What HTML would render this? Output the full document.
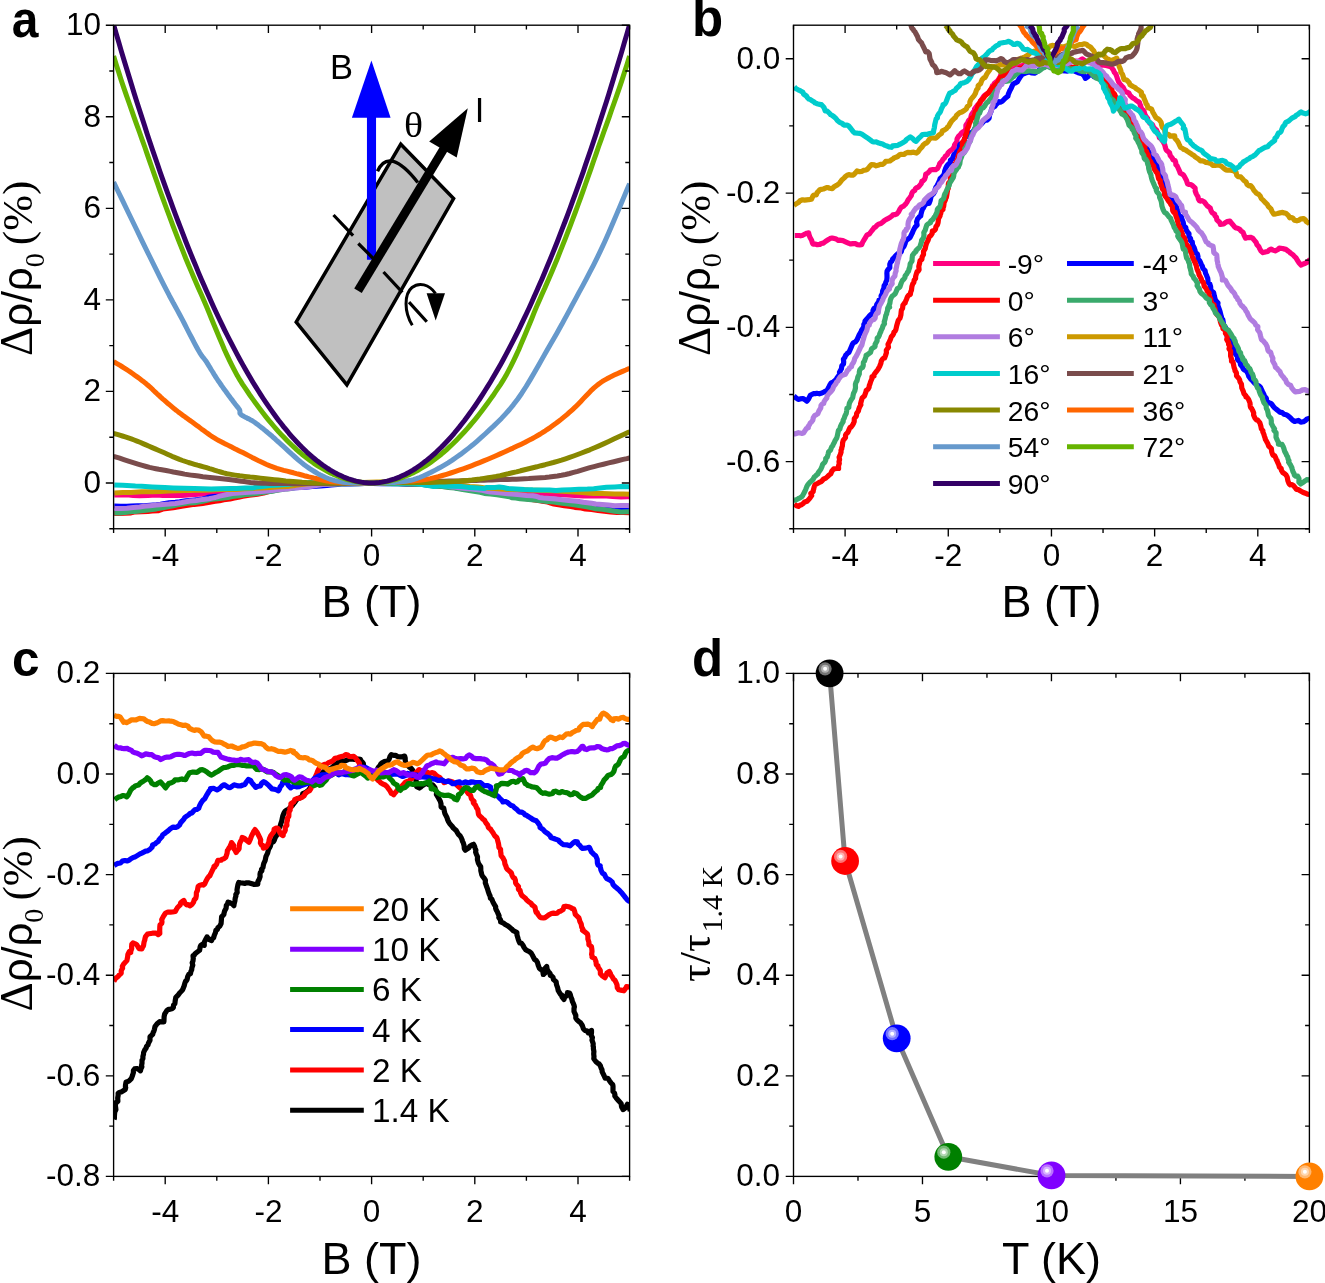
<!DOCTYPE html><html><head><meta charset="utf-8"><style>html,body{margin:0;padding:0;background:#fff;}svg{display:block;will-change:transform;}</style></head><body>
<svg width="1325" height="1283" viewBox="0 0 1325 1283">
<rect width="1325" height="1283" fill="#fff"/>
<defs>
<clipPath id="ca"><rect x="113.6" y="25.2" width="516.0" height="503.6"/></clipPath>
<clipPath id="cb"><rect x="793.5" y="25.2" width="515.9" height="503.6"/></clipPath>
<clipPath id="cc"><rect x="113.6" y="673.4" width="516.0" height="503.0"/></clipPath>
<clipPath id="cd"><rect x="793.5" y="673.4" width="515.9" height="503.0"/></clipPath>
</defs>
<g clip-path="url(#ca)">
<path d="M114.3 495.1 L122.7 495.0 L129.0 494.9 L133.3 495.5 L139.6 495.7 L148.0 495.4 L156.4 495.1 L162.7 495.4 L173.2 495.6 L181.7 495.6 L188.0 495.0 L198.5 494.3 L206.9 494.0 L215.3 493.5 L223.8 493.0 L232.2 492.2 L240.6 491.4 L249.0 490.7 L257.4 490.4 L265.9 489.7 L274.3 489.1 L278.5 488.2 L284.8 487.8 L289.0 487.2 L295.3 486.5 L303.7 485.6 L310.1 485.2 L318.5 484.3 L324.8 483.9 L333.2 483.6 L341.6 483.4 L352.1 483.3 L360.1 483.2 L362.7 483.2 L368.6 483.2 L377.0 483.1 L385.4 483.2 L393.8 483.1 L402.2 483.1 L410.7 483.2 L419.1 483.4 L427.5 483.5 L433.8 483.8 L438.0 484.3 L444.3 485.1 L450.7 485.5 L457.0 485.8 L463.3 486.5 L469.6 487.4 L478.0 488.1 L482.2 488.7 L488.5 489.4 L494.9 489.9 L501.2 490.8 L507.5 491.4 L515.9 492.0 L520.1 492.7 L526.4 493.0 L534.8 493.5 L541.2 494.2 L549.6 494.1 L558.0 494.5 L566.4 495.1 L574.8 495.4 L583.3 496.1 L591.7 496.1 L600.1 496.0 L606.4 495.9 L612.7 496.4 L621.1 497.0 L627.5 496.8 L630.2 496.7" fill="none" stroke="#FF0080" stroke-width="5.0" stroke-linejoin="round" stroke-linecap="butt"/>
<path d="M114.3 506.1 L120.6 506.2 L126.9 506.3 L131.1 506.0 L137.5 505.7 L143.8 505.7 L150.1 505.3 L156.4 504.8 L160.6 504.3 L164.8 503.4 L169.0 502.8 L175.3 502.3 L179.6 501.8 L185.9 500.8 L192.2 500.2 L198.5 499.5 L202.7 499.0 L205.9 498.2 L208.0 497.3 L213.2 496.5 L221.7 496.0 L232.2 494.8 L236.4 494.2 L242.7 493.2 L249.0 492.7 L257.4 491.5 L265.9 490.5 L271.1 489.9 L274.3 489.5 L282.7 488.7 L291.1 487.9 L299.5 487.5 L305.8 487.2 L312.2 486.5 L320.6 485.9 L326.9 485.6 L331.1 485.1 L337.4 484.4 L341.6 484.1 L350.0 484.0 L358.5 483.7 L364.4 483.6 L366.9 483.5 L372.8 483.6 L381.2 483.7 L389.6 483.8 L398.0 483.8 L402.2 483.9 L406.5 484.3 L410.7 484.1 L419.1 484.2 L425.4 484.8 L431.7 485.4 L440.1 486.1 L448.5 486.6 L457.0 488.1 L465.4 488.9 L473.8 489.8 L480.1 490.8 L486.4 491.8 L494.9 492.8 L503.3 494.1 L509.6 495.1 L515.9 496.1 L522.2 497.1 L526.4 497.7 L528.5 498.2 L532.7 498.8 L536.9 499.5 L541.2 500.5 L545.4 501.4 L549.6 502.1 L555.9 503.1 L562.2 504.0 L570.6 504.7 L579.0 505.3 L583.3 505.8 L587.5 506.3 L593.8 506.7 L600.1 507.1 L606.4 507.3 L612.7 507.4 L621.1 507.7 L627.5 507.5 L630.2 507.4" fill="none" stroke="#0000FF" stroke-width="5.0" stroke-linejoin="round" stroke-linecap="butt"/>
<path d="M114.3 513.4 L118.5 513.5 L124.8 513.2 L131.1 512.9 L135.4 511.9 L141.7 511.7 L148.0 511.4 L152.2 511.0 L158.5 510.8 L162.7 509.1 L166.9 508.6 L173.2 507.8 L177.5 507.1 L181.7 506.3 L188.0 505.4 L194.3 504.4 L198.5 504.1 L202.7 503.5 L206.9 502.8 L211.1 502.0 L215.3 501.4 L219.5 500.7 L223.8 499.7 L230.1 499.0 L234.3 498.1 L238.5 497.3 L242.7 496.4 L249.0 495.3 L257.4 494.2 L263.7 493.0 L268.0 491.8 L274.3 490.4 L280.6 489.2 L284.8 488.4 L289.0 487.5 L295.3 486.6 L301.6 485.8 L310.1 485.2 L316.4 484.6 L320.6 484.2 L329.0 483.9 L339.5 483.6 L350.0 483.4 L362.7 483.3 L364.4 483.3 L372.8 483.3 L381.2 483.4 L389.6 483.5 L398.0 483.6 L406.5 483.7 L412.8 483.9 L419.1 484.1 L427.5 484.6 L433.8 485.4 L442.2 486.4 L448.5 486.8 L454.9 487.6 L461.2 488.5 L467.5 489.5 L473.8 490.4 L480.1 491.2 L484.3 492.2 L486.4 492.5 L490.6 492.8 L497.0 494.0 L503.3 495.0 L509.6 496.0 L515.9 497.0 L520.1 497.8 L522.2 498.1 L528.5 499.0 L534.8 500.0 L541.2 501.0 L547.5 502.0 L550.6 503.1 L553.8 504.0 L560.1 505.0 L564.3 505.7 L570.6 506.6 L574.8 507.4 L581.2 508.0 L585.4 509.0 L591.7 509.6 L598.0 510.6 L604.3 511.3 L610.6 512.0 L616.9 512.4 L623.2 512.6 L630.2 512.7" fill="none" stroke="#FF0000" stroke-width="5.0" stroke-linejoin="round" stroke-linecap="butt"/>
<path d="M114.3 513.0 L120.6 513.0 L124.8 512.4 L131.1 511.7 L137.5 511.3 L143.8 510.6 L150.1 509.7 L156.4 508.9 L162.7 507.7 L169.0 506.6 L173.2 505.8 L177.5 504.8 L183.8 503.7 L188.0 503.0 L194.3 502.7 L198.5 502.0 L202.7 501.2 L206.9 500.2 L211.1 499.2 L217.4 498.7 L223.8 498.1 L228.0 497.5 L232.2 496.5 L240.6 495.5 L246.9 494.4 L255.3 493.7 L261.6 492.7 L268.0 491.7 L274.3 490.9 L280.6 489.9 L286.9 488.9 L291.1 488.4 L295.3 487.5 L299.5 486.6 L305.8 486.1 L312.2 485.5 L318.5 484.9 L322.7 484.5 L329.0 484.3 L339.5 483.9 L347.9 483.8 L358.5 483.7 L364.4 483.6 L366.9 483.5 L372.8 483.6 L381.2 483.6 L389.6 483.6 L398.0 483.7 L410.7 483.9 L417.0 484.2 L423.3 484.6 L429.6 485.4 L435.9 486.2 L442.2 486.6 L448.5 487.4 L454.9 488.1 L461.2 489.2 L467.5 490.2 L473.8 491.4 L480.1 492.4 L484.3 493.4 L490.6 494.0 L497.0 494.8 L503.3 495.8 L509.6 496.8 L511.7 497.7 L515.9 498.1 L520.1 498.8 L528.5 499.4 L534.8 500.1 L541.2 500.8 L547.5 501.5 L553.8 502.1 L560.1 503.0 L566.4 503.8 L572.7 504.5 L579.0 505.6 L585.4 506.6 L591.7 507.7 L595.9 508.7 L602.2 509.3 L608.5 510.3 L614.8 511.3 L621.1 511.9 L627.5 511.7 L630.2 511.7" fill="none" stroke="#3AAA6C" stroke-width="5.0" stroke-linejoin="round" stroke-linecap="butt"/>
<path d="M114.3 508.4 L120.6 508.6 L126.9 508.3 L133.3 507.4 L139.6 507.0 L143.8 506.3 L150.1 505.7 L156.4 505.1 L162.7 504.5 L169.0 504.1 L175.3 503.4 L181.7 502.5 L185.9 501.7 L190.1 501.0 L196.4 500.5 L202.7 499.4 L209.0 498.7 L213.2 497.9 L215.3 497.5 L219.5 496.1 L225.9 494.7 L232.2 493.5 L238.5 493.0 L244.8 492.6 L253.2 492.1 L261.6 491.4 L270.1 490.7 L276.4 490.1 L280.6 489.5 L286.9 489.1 L293.2 488.1 L301.6 487.4 L307.9 486.9 L312.2 486.2 L318.5 485.1 L322.7 484.5 L331.1 484.1 L337.4 483.8 L345.8 483.6 L354.3 483.4 L362.7 483.3 L364.4 483.4 L372.8 483.4 L381.2 483.3 L389.6 483.3 L398.0 483.3 L406.5 483.3 L412.8 483.3 L423.3 483.9 L431.7 484.5 L438.0 484.9 L444.3 485.6 L448.5 486.4 L452.8 486.9 L459.1 487.8 L465.4 488.5 L471.7 488.9 L478.0 489.7 L482.2 490.4 L486.4 491.2 L490.6 492.1 L499.1 492.7 L505.4 493.5 L511.7 494.1 L520.1 494.7 L526.4 495.4 L532.7 495.8 L536.9 496.5 L539.1 497.4 L543.3 497.9 L549.6 498.5 L555.9 499.1 L562.2 499.8 L568.5 500.4 L574.8 501.0 L579.0 501.5 L583.3 502.3 L587.5 502.7 L591.7 503.3 L595.9 504.0 L602.2 504.5 L608.5 505.1 L614.8 505.7 L621.1 505.6 L627.5 505.6 L630.2 505.7" fill="none" stroke="#B07CE0" stroke-width="5.0" stroke-linejoin="round" stroke-linecap="butt"/>
<path d="M114.3 493.0 L122.7 492.6 L131.1 492.5 L141.7 491.8 L152.2 491.8 L160.6 491.4 L169.0 490.9 L177.5 490.8 L185.9 490.4 L194.3 490.2 L202.7 490.2 L211.1 489.9 L219.5 489.5 L228.0 489.4 L236.4 489.4 L244.8 488.8 L253.2 488.4 L261.6 488.1 L270.1 487.4 L278.5 486.8 L286.9 486.4 L295.3 485.4 L299.5 484.8 L305.8 484.1 L312.2 483.6 L320.6 483.4 L331.1 483.3 L341.6 482.9 L352.1 482.6 L360.1 482.3 L362.7 482.5 L368.6 482.2 L377.0 482.1 L385.4 482.1 L393.8 482.1 L402.2 482.0 L410.7 482.2 L419.1 482.6 L427.5 482.9 L435.9 483.1 L440.1 483.6 L444.3 484.3 L452.8 484.9 L461.2 485.2 L465.4 485.8 L469.6 486.5 L478.0 487.1 L482.2 487.5 L486.4 488.1 L494.9 488.4 L503.3 489.2 L511.7 489.5 L520.1 489.8 L528.5 490.1 L536.9 490.2 L545.4 490.4 L553.8 490.7 L562.2 491.2 L570.6 491.7 L579.0 492.2 L587.5 493.0 L593.8 493.5 L602.2 493.4 L608.5 493.7 L614.8 494.1 L623.2 494.0 L630.2 494.2" fill="none" stroke="#CC9900" stroke-width="5.0" stroke-linejoin="round" stroke-linecap="butt"/>
<path d="M114.3 484.9 L122.7 485.3 L135.4 486.0 L141.7 486.2 L152.2 486.9 L164.8 487.5 L173.2 487.9 L183.8 488.2 L194.3 488.6 L202.7 488.8 L211.1 489.1 L219.5 488.8 L230.1 488.4 L236.4 488.5 L244.8 488.1 L253.2 487.9 L257.4 486.9 L265.9 485.9 L270.1 485.4 L278.5 484.9 L289.0 484.3 L295.3 483.6 L303.7 482.9 L310.1 482.4 L316.4 482.1 L329.0 481.8 L337.4 482.0 L345.8 482.3 L354.3 482.5 L362.7 482.7 L364.4 483.1 L370.7 483.2 L381.2 483.5 L391.7 483.8 L402.2 483.7 L412.8 483.7 L419.1 483.9 L423.3 484.8 L429.6 485.8 L433.8 486.5 L438.0 486.1 L440.1 485.6 L444.3 486.2 L452.8 486.2 L461.2 486.6 L469.6 487.4 L478.0 488.1 L484.3 488.6 L486.4 487.5 L494.9 487.4 L499.1 487.1 L503.3 487.5 L507.5 488.5 L515.9 488.9 L524.3 489.5 L532.7 489.8 L541.2 489.9 L549.6 490.1 L555.9 490.5 L562.2 490.1 L570.6 489.7 L579.0 489.2 L587.5 489.0 L593.8 488.7 L600.1 487.9 L606.4 487.2 L614.8 486.9 L621.1 486.6 L630.2 486.7" fill="none" stroke="#00CCCC" stroke-width="5.0" stroke-linejoin="round" stroke-linecap="butt"/>
<path d="M113.6 456.3 L116.2 457.1 L119.7 458.2 L123.8 459.6 L128.4 461.1 L133.2 462.6 L137.9 464.1 L142.3 465.4 L146.2 466.5 L149.6 467.4 L152.9 468.1 L155.9 468.7 L158.8 469.3 L161.7 469.8 L164.6 470.3 L167.4 470.8 L170.4 471.4 L173.3 472.0 L176.2 472.5 L178.9 473.0 L181.7 473.5 L184.6 474.1 L187.6 474.6 L190.9 475.1 L194.5 475.6 L198.5 476.1 L202.9 476.7 L207.6 477.2 L212.5 477.8 L217.3 478.3 L222.1 478.8 L226.6 479.3 L230.8 479.8 L234.5 480.3 L237.9 480.7 L241.1 481.2 L244.2 481.6 L247.2 482.0 L250.4 482.4 L253.8 482.7 L257.6 483.0 L261.6 483.2 L265.7 483.3 L269.9 483.5 L274.3 483.5 L278.9 483.6 L283.8 483.6 L288.8 483.6 L294.2 483.7 L300.1 483.7 L306.7 483.6 L313.6 483.6 L320.7 483.5 L327.7 483.4 L334.4 483.3 L340.5 483.3 L345.8 483.2 L350.1 483.2 L353.5 483.2 L356.2 483.1 L358.7 483.1 L361.2 483.1 L363.9 483.1 L367.3 483.1 L371.6 483.0 L376.9 482.9 L383.0 482.7 L389.6 482.5 L396.5 482.3 L403.6 482.1 L410.5 481.9 L417.1 481.8 L423.2 481.6 L428.8 481.5 L434.2 481.4 L439.4 481.3 L444.4 481.2 L449.2 481.1 L454.0 481.0 L458.6 480.9 L463.2 480.8 L467.6 480.7 L471.9 480.6 L476.0 480.4 L480.0 480.3 L484.0 480.2 L487.9 480.0 L491.9 479.9 L496.0 479.7 L500.1 479.6 L504.1 479.5 L508.2 479.4 L512.3 479.3 L516.4 479.2 L520.5 479.0 L524.6 478.8 L528.7 478.6 L532.8 478.3 L536.9 478.0 L541.0 477.7 L545.1 477.4 L549.2 477.0 L553.3 476.5 L557.4 476.0 L561.5 475.3 L565.5 474.5 L569.6 473.5 L573.6 472.4 L577.6 471.3 L581.6 470.1 L585.7 468.9 L589.8 467.7 L594.0 466.6 L598.5 465.4 L603.5 464.2 L608.7 462.9 L613.8 461.7 L618.7 460.5 L623.1 459.4 L626.8 458.6 L629.6 457.9" fill="none" stroke="#7A4C4C" stroke-width="5.0" stroke-linejoin="round" stroke-linecap="butt"/>
<path d="M113.6 433.3 L115.2 433.8 L117.2 434.4 L119.7 435.2 L122.4 436.0 L125.3 436.9 L128.3 437.9 L131.3 438.9 L134.2 440.0 L137.0 441.1 L140.0 442.3 L143.0 443.6 L146.0 444.9 L149.1 446.2 L152.2 447.6 L155.2 448.9 L158.3 450.2 L161.3 451.5 L164.3 452.8 L167.4 454.2 L170.4 455.5 L173.4 456.9 L176.4 458.1 L179.5 459.4 L182.5 460.5 L185.5 461.5 L188.5 462.5 L191.5 463.4 L194.5 464.3 L197.5 465.2 L200.6 466.0 L203.6 466.8 L206.6 467.7 L209.5 468.6 L212.3 469.4 L215.0 470.3 L217.7 471.2 L220.6 472.0 L223.7 472.9 L227.0 473.7 L230.8 474.4 L235.0 475.1 L239.8 475.8 L244.8 476.4 L250.1 477.1 L255.4 477.6 L260.5 478.2 L265.5 478.7 L270.0 479.2 L274.2 479.7 L278.2 480.1 L282.1 480.5 L285.8 480.9 L289.4 481.2 L292.9 481.5 L296.2 481.8 L299.4 482.1 L302.1 482.3 L304.4 482.4 L306.4 482.6 L308.3 482.7 L310.4 482.8 L312.9 482.9 L316.0 482.9 L320.0 483.0 L325.0 483.0 L330.7 483.0 L337.1 483.1 L343.9 483.1 L350.9 483.0 L358.0 483.0 L364.9 483.0 L371.6 483.0 L378.1 482.9 L384.8 482.9 L391.5 482.9 L398.1 482.8 L404.7 482.8 L411.1 482.7 L417.3 482.6 L423.2 482.5 L428.8 482.4 L434.2 482.2 L439.4 482.1 L444.4 481.9 L449.2 481.7 L454.0 481.5 L458.6 481.2 L463.2 480.8 L467.6 480.4 L471.9 480.0 L476.0 479.5 L480.0 479.0 L484.0 478.4 L487.9 477.8 L491.9 477.1 L496.0 476.4 L500.1 475.6 L504.1 474.7 L508.2 473.8 L512.3 472.8 L516.4 471.9 L520.5 470.8 L524.6 469.8 L528.7 468.8 L532.8 467.8 L536.9 466.8 L541.0 465.7 L545.1 464.7 L549.2 463.6 L553.3 462.5 L557.4 461.3 L561.5 460.1 L565.5 458.8 L569.6 457.4 L573.6 456.0 L577.6 454.5 L581.6 453.0 L585.7 451.4 L589.8 449.8 L594.0 448.0 L598.5 446.1 L603.5 443.9 L608.7 441.5 L613.8 439.1 L618.7 436.8 L623.1 434.7 L626.8 433.0 L629.6 431.7" fill="none" stroke="#888800" stroke-width="5.0" stroke-linejoin="round" stroke-linecap="butt"/>
<path d="M113.6 361.7 L114.7 362.3 L116.1 363.1 L117.8 364.1 L119.7 365.2 L121.8 366.5 L123.9 367.8 L126.0 369.1 L128.1 370.5 L130.2 371.9 L132.5 373.5 L134.8 375.2 L137.2 376.9 L139.5 378.6 L141.9 380.4 L144.1 382.1 L146.2 383.8 L148.2 385.5 L150.1 387.1 L151.9 388.8 L153.6 390.5 L155.3 392.1 L157.1 393.8 L158.9 395.4 L160.7 397.1 L162.6 398.8 L164.5 400.4 L166.4 402.1 L168.3 403.8 L170.3 405.4 L172.3 407.1 L174.3 408.8 L176.4 410.4 L178.5 412.1 L180.8 413.7 L183.0 415.4 L185.3 417.1 L187.6 418.7 L189.9 420.4 L192.2 422.0 L194.5 423.7 L196.8 425.4 L199.1 427.1 L201.4 428.9 L203.7 430.6 L206.0 432.3 L208.3 433.9 L210.5 435.5 L212.6 436.9 L214.7 438.2 L216.7 439.4 L218.7 440.5 L220.7 441.5 L222.6 442.5 L224.5 443.5 L226.4 444.4 L228.3 445.4 L230.1 446.3 L231.7 447.1 L233.3 447.9 L234.8 448.7 L236.5 449.5 L238.3 450.4 L240.4 451.4 L242.8 452.6 L245.6 454.0 L248.7 455.6 L252.1 457.4 L255.7 459.2 L259.3 461.1 L263.0 462.8 L266.6 464.5 L270.0 465.9 L273.4 467.1 L276.8 468.3 L280.3 469.3 L283.7 470.3 L287.1 471.2 L290.3 472.0 L293.5 472.8 L296.4 473.6 L299.2 474.3 L301.8 475.0 L304.2 475.7 L306.6 476.3 L308.9 476.9 L311.2 477.4 L313.5 478.0 L315.9 478.5 L318.2 479.0 L320.4 479.5 L322.5 480.0 L324.6 480.5 L326.9 481.0 L329.4 481.4 L332.2 481.7 L335.5 482.1 L339.2 482.3 L343.5 482.5 L348.0 482.7 L352.8 482.8 L357.7 482.9 L362.5 483.0 L367.2 483.0 L371.6 483.0 L375.7 482.9 L379.8 482.8 L383.7 482.7 L387.6 482.5 L391.4 482.3 L395.2 482.1 L398.9 481.9 L402.6 481.6 L406.2 481.3 L409.6 481.1 L413.0 480.9 L416.4 480.6 L419.8 480.3 L423.2 479.8 L426.7 479.3 L430.4 478.6 L434.3 477.7 L438.3 476.7 L442.4 475.5 L446.5 474.3 L450.7 473.0 L454.9 471.6 L459.1 470.2 L463.2 468.8 L467.3 467.3 L471.4 465.8 L475.5 464.2 L479.6 462.6 L483.7 460.9 L487.8 459.2 L491.9 457.5 L496.0 455.7 L500.1 453.9 L504.4 452.0 L508.7 450.0 L513.0 448.1 L517.2 446.1 L521.3 444.2 L525.2 442.3 L528.7 440.4 L532.0 438.7 L534.9 437.1 L537.7 435.5 L540.3 434.0 L542.8 432.4 L545.3 430.8 L547.8 429.1 L550.5 427.3 L553.2 425.3 L556.0 423.3 L558.7 421.2 L561.4 419.1 L564.1 416.9 L566.9 414.6 L569.6 412.2 L572.3 409.8 L575.1 407.2 L577.9 404.4 L580.8 401.4 L583.6 398.4 L586.4 395.5 L589.1 392.7 L591.6 390.1 L594.0 387.9 L596.1 386.1 L598.1 384.5 L599.8 383.2 L601.5 382.0 L603.2 380.9 L605.0 379.9 L606.9 378.8 L609.0 377.7 L611.4 376.4 L614.2 375.1 L617.2 373.7 L620.2 372.4 L623.1 371.1 L625.8 370.0 L628.0 369.0 L629.6 368.3" fill="none" stroke="#FF6600" stroke-width="5.0" stroke-linejoin="round" stroke-linecap="butt"/>
<path d="M113.6 182.2 L117.4 190.0 L122.6 200.7 L128.8 213.5 L135.6 227.5 L142.5 241.8 L149.2 255.5 L155.2 267.7 L160.0 277.4 L163.8 284.9 L166.9 290.8 L169.4 295.7 L171.6 299.7 L173.5 303.3 L175.4 306.7 L177.4 310.4 L179.6 314.5 L182.1 319.2 L184.6 324.0 L187.1 329.0 L189.6 333.8 L192.1 338.5 L194.3 342.8 L196.4 346.7 L198.2 350.0 L199.7 352.6 L201.0 354.6 L202.0 356.1 L203.0 357.3 L203.8 358.3 L204.6 359.4 L205.5 360.6 L206.6 362.1 L207.7 363.9 L208.9 365.9 L210.2 367.9 L211.4 370.0 L212.7 372.0 L213.9 374.1 L215.1 376.0 L216.3 377.8 L217.4 379.5 L218.4 381.1 L219.5 382.6 L220.5 384.0 L221.5 385.5 L222.5 386.9 L223.6 388.4 L224.7 389.9 L225.9 391.5 L227.1 393.3 L228.4 395.1 L229.8 396.8 L231.0 398.6 L232.3 400.2 L233.4 401.7 L234.4 403.1 L235.3 404.3 L236.1 405.3 L236.8 406.2 L237.5 407.0 L238.1 407.7 L238.6 408.4 L239.1 409.1 L239.5 409.7 L239.8 410.4 L239.9 411.0 L239.9 411.5 L239.9 412.0 L239.9 412.5 L239.9 412.9 L240.0 413.4 L240.3 413.8 L240.7 414.3 L241.1 414.7 L241.6 415.0 L242.2 415.4 L242.8 415.7 L243.5 416.1 L244.3 416.6 L245.2 417.1 L246.1 417.6 L247.1 418.1 L248.2 418.6 L249.4 419.2 L250.6 419.9 L252.0 420.6 L253.4 421.5 L254.9 422.5 L256.5 423.7 L258.4 425.1 L260.3 426.6 L262.4 428.2 L264.4 429.9 L266.4 431.5 L268.3 433.1 L270.0 434.5 L271.5 435.7 L272.7 436.8 L273.8 437.8 L274.9 438.7 L276.0 439.8 L277.3 441.0 L278.9 442.4 L280.8 444.1 L283.1 446.2 L285.8 448.6 L288.7 451.3 L291.8 454.2 L295.0 457.0 L298.2 459.8 L301.3 462.4 L304.2 464.7 L307.0 466.7 L309.7 468.6 L312.5 470.4 L315.1 472.0 L317.8 473.6 L320.4 475.0 L323.1 476.3 L325.7 477.5 L328.2 478.5 L330.7 479.4 L333.1 480.1 L335.5 480.8 L337.9 481.3 L340.4 481.8 L343.0 482.2 L345.8 482.5 L348.8 482.8 L351.9 483.0 L355.1 483.1 L358.3 483.1 L361.7 483.1 L365.0 483.1 L368.3 483.0 L371.6 483.0 L374.8 482.9 L378.1 482.9 L381.4 482.9 L384.7 482.8 L388.0 482.7 L391.2 482.6 L394.3 482.4 L397.4 482.1 L400.3 481.7 L403.0 481.5 L405.5 481.2 L408.1 480.8 L410.7 480.3 L413.4 479.6 L416.3 478.7 L419.6 477.5 L423.2 476.0 L427.0 474.2 L431.1 472.3 L435.3 470.1 L439.6 467.8 L443.9 465.3 L448.1 462.8 L452.3 460.1 L456.4 457.3 L460.5 454.4 L464.6 451.3 L468.7 448.1 L472.8 444.8 L476.9 441.3 L481.0 437.7 L485.1 434.0 L489.2 430.2 L493.3 426.4 L497.3 422.5 L501.4 418.4 L505.4 414.1 L509.5 409.5 L513.5 404.6 L517.6 399.2 L521.8 393.2 L526.1 386.5 L530.4 379.4 L534.7 372.0 L539.0 364.6 L543.0 357.4 L546.9 350.5 L550.5 344.3 L553.7 338.7 L556.6 333.7 L559.2 329.0 L561.7 324.6 L564.1 320.1 L566.7 315.4 L569.4 310.4 L572.3 304.9 L575.6 298.9 L578.9 292.6 L582.5 286.1 L586.1 279.4 L589.7 272.4 L593.4 265.3 L597.1 257.9 L600.7 250.4 L604.5 242.2 L608.6 233.0 L612.8 223.3 L616.9 213.6 L620.9 204.3 L624.4 195.9 L627.4 188.8 L629.6 183.6" fill="none" stroke="#6699CC" stroke-width="5.0" stroke-linejoin="round" stroke-linecap="butt"/>
<path d="M113.6 56.1 L116.2 64.5 L118.8 72.6 L121.3 80.4 L123.9 88.1 L126.5 95.6 L129.1 103.0 L131.7 110.3 L134.2 117.6 L136.8 124.8 L139.4 132.0 L142.0 139.3 L144.6 146.5 L147.1 153.9 L149.7 161.3 L152.3 168.8 L154.9 176.2 L157.5 183.5 L160.0 190.7 L162.6 197.9 L165.2 205.0 L167.8 212.0 L170.4 218.9 L172.9 225.7 L175.5 232.4 L178.1 239.1 L180.7 245.6 L183.3 252.1 L185.8 258.5 L188.4 264.7 L191.0 270.9 L193.6 276.9 L196.2 282.9 L198.7 288.8 L201.3 294.5 L203.9 300.4 L206.5 306.4 L209.1 312.7 L211.6 319.0 L214.2 325.3 L216.8 331.5 L219.4 337.7 L222.0 343.8 L224.5 349.7 L227.1 355.4 L229.7 360.9 L232.3 366.1 L234.9 371.1 L237.4 375.8 L240.0 380.2 L242.6 384.3 L245.2 388.2 L247.8 392.0 L250.3 395.8 L252.9 399.4 L255.5 403.0 L258.1 406.5 L260.7 410.0 L263.2 413.3 L265.8 416.6 L268.4 419.8 L271.0 422.9 L273.6 426.0 L276.1 428.9 L278.7 431.8 L281.3 434.6 L283.9 437.3 L286.5 440.0 L289.0 442.5 L291.6 445.0 L294.2 447.4 L296.8 449.8 L299.4 452.0 L301.9 454.2 L304.5 456.3 L307.1 458.3 L309.7 460.2 L312.3 462.1 L314.8 463.9 L317.4 465.6 L320.0 467.2 L322.6 468.7 L325.2 470.2 L327.7 471.6 L330.3 472.9 L332.9 474.1 L335.5 475.2 L338.1 476.3 L340.6 477.3 L343.2 478.2 L345.8 479.0 L348.4 479.8 L351.0 480.4 L353.5 481.0 L356.1 481.6 L358.7 482.0 L361.3 482.3 L363.9 482.6 L366.4 482.8 L369.0 482.9 L371.6 483.0 L374.2 482.9 L376.8 482.8 L379.3 482.6 L381.9 482.3 L384.5 482.0 L387.1 481.6 L389.7 481.0 L392.2 480.4 L394.8 479.8 L397.4 479.0 L400.0 478.2 L402.6 477.3 L405.1 476.3 L407.7 475.2 L410.3 474.1 L412.9 472.9 L415.5 471.6 L418.0 470.2 L420.6 468.7 L423.2 467.2 L425.8 465.6 L428.4 463.9 L430.9 462.1 L433.5 460.2 L436.1 458.3 L438.7 456.3 L441.3 454.2 L443.8 452.0 L446.4 449.8 L449.0 447.4 L451.6 445.0 L454.2 442.5 L456.7 440.0 L459.3 437.3 L461.9 434.6 L464.5 431.8 L467.1 428.9 L469.6 426.0 L472.2 422.9 L474.8 419.8 L477.4 416.6 L480.0 413.3 L482.5 410.0 L485.1 406.5 L487.7 403.0 L490.3 399.4 L492.9 395.8 L495.4 392.0 L498.0 388.2 L500.6 384.3 L503.2 380.2 L505.8 375.8 L508.3 371.1 L510.9 366.1 L513.5 360.9 L516.1 355.4 L518.7 349.7 L521.2 343.8 L523.8 337.7 L526.4 331.5 L529.0 325.3 L531.6 319.0 L534.1 312.7 L536.7 306.4 L539.3 300.4 L541.9 294.5 L544.5 288.8 L547.0 282.9 L549.6 276.9 L552.2 270.9 L554.8 264.7 L557.4 258.5 L559.9 252.1 L562.5 245.6 L565.1 239.1 L567.7 232.4 L570.3 225.7 L572.8 218.9 L575.4 212.0 L578.0 205.0 L580.6 197.9 L583.2 190.7 L585.7 183.5 L588.3 176.2 L590.9 168.8 L593.5 161.3 L596.1 153.9 L598.6 146.5 L601.2 139.3 L603.8 132.0 L606.4 124.8 L609.0 117.6 L611.5 110.3 L614.1 103.0 L616.7 95.6 L619.3 88.1 L621.9 80.4 L624.4 72.6 L627.0 64.5 L629.6 56.1" fill="none" stroke="#66B400" stroke-width="5.0" stroke-linejoin="round" stroke-linecap="butt"/>
<path d="M113.6 24.7 L116.2 33.6 L118.8 42.4 L121.3 51.1 L123.9 59.8 L126.5 68.3 L129.1 76.8 L131.7 85.2 L134.2 93.5 L136.8 101.7 L139.4 109.8 L142.0 117.8 L144.6 125.8 L147.1 133.7 L149.7 141.5 L152.3 149.2 L154.9 156.8 L157.5 164.3 L160.0 171.8 L162.6 179.1 L165.2 186.4 L167.8 193.6 L170.4 200.7 L172.9 207.7 L175.5 214.6 L178.1 221.5 L180.7 228.2 L183.3 234.9 L185.8 241.5 L188.4 248.0 L191.0 254.4 L193.6 260.7 L196.2 266.9 L198.7 273.1 L201.3 279.2 L203.9 285.1 L206.5 291.0 L209.1 296.8 L211.6 302.5 L214.2 308.2 L216.8 313.7 L219.4 319.2 L222.0 324.6 L224.5 329.8 L227.1 335.0 L229.7 340.1 L232.3 345.2 L234.9 350.1 L237.4 354.9 L240.0 359.7 L242.6 364.4 L245.2 368.9 L247.8 373.4 L250.3 377.8 L252.9 382.2 L255.5 386.4 L258.1 390.5 L260.7 394.6 L263.2 398.5 L265.8 402.4 L268.4 406.2 L271.0 409.9 L273.6 413.5 L276.1 417.0 L278.7 420.5 L281.3 423.8 L283.9 427.1 L286.5 430.2 L289.0 433.3 L291.6 436.3 L294.2 439.2 L296.8 442.0 L299.4 444.7 L301.9 447.3 L304.5 449.8 L307.1 452.3 L309.7 454.6 L312.3 456.9 L314.8 459.0 L317.4 461.1 L320.0 463.1 L322.6 465.0 L325.2 466.8 L327.7 468.5 L330.3 470.1 L332.9 471.6 L335.5 473.1 L338.1 474.4 L340.6 475.6 L343.2 476.8 L345.8 477.8 L348.4 478.8 L351.0 479.6 L353.5 480.4 L356.1 481.1 L358.7 481.6 L361.3 482.1 L363.9 482.5 L366.4 482.7 L369.0 482.9 L371.6 483.0 L374.2 482.9 L376.8 482.7 L379.3 482.5 L381.9 482.1 L384.5 481.6 L387.1 481.1 L389.7 480.4 L392.2 479.6 L394.8 478.8 L397.4 477.8 L400.0 476.8 L402.6 475.6 L405.1 474.4 L407.7 473.1 L410.3 471.6 L412.9 470.1 L415.5 468.5 L418.0 466.8 L420.6 465.0 L423.2 463.1 L425.8 461.1 L428.4 459.0 L430.9 456.9 L433.5 454.6 L436.1 452.3 L438.7 449.8 L441.3 447.3 L443.8 444.7 L446.4 442.0 L449.0 439.2 L451.6 436.3 L454.2 433.3 L456.7 430.2 L459.3 427.1 L461.9 423.8 L464.5 420.5 L467.1 417.0 L469.6 413.5 L472.2 409.9 L474.8 406.2 L477.4 402.4 L480.0 398.5 L482.5 394.6 L485.1 390.5 L487.7 386.4 L490.3 382.2 L492.9 377.8 L495.4 373.4 L498.0 368.9 L500.6 364.4 L503.2 359.7 L505.8 354.9 L508.3 350.1 L510.9 345.2 L513.5 340.1 L516.1 335.0 L518.7 329.8 L521.2 324.6 L523.8 319.2 L526.4 313.7 L529.0 308.2 L531.6 302.5 L534.1 296.8 L536.7 291.0 L539.3 285.1 L541.9 279.2 L544.5 273.1 L547.0 266.9 L549.6 260.7 L552.2 254.4 L554.8 248.0 L557.4 241.5 L559.9 234.9 L562.5 228.2 L565.1 221.5 L567.7 214.6 L570.3 207.7 L572.8 200.7 L575.4 193.6 L578.0 186.4 L580.6 179.1 L583.2 171.8 L585.7 164.3 L588.3 156.8 L590.9 149.2 L593.5 141.5 L596.1 133.7 L598.6 125.8 L601.2 117.8 L603.8 109.8 L606.4 101.7 L609.0 93.5 L611.5 85.2 L614.1 76.8 L616.7 68.3 L619.3 59.8 L621.9 51.1 L624.4 42.4 L627.0 33.6 L629.6 24.7" fill="none" stroke="#330066" stroke-width="5.0" stroke-linejoin="round" stroke-linecap="butt"/>
</g>
<g clip-path="url(#cb)">
<path d="M794.8 235.5 L796.6 235.5 L799.1 235.5 L800.6 235.8 L802.2 235.5 L805.5 233.8 L806.8 233.2 L808.6 232.8 L809.0 234.6 L809.8 237.0 L811.6 240.2 L812.5 243.2 L813.0 244.2 L815.9 244.2 L817.4 244.7 L819.7 244.5 L821.2 243.5 L823.3 243.1 L825.4 241.5 L828.1 239.8 L830.0 238.6 L832.1 238.0 L834.3 238.6 L836.3 239.1 L838.5 240.5 L839.5 240.2 L842.9 240.6 L845.0 241.6 L847.2 242.6 L849.0 243.4 L850.7 244.0 L852.7 243.6 L855.6 243.5 L857.1 244.6 L859.8 244.8 L861.7 244.7 L862.5 242.5 L864.2 239.7 L865.9 236.9 L866.7 235.3 L867.3 234.8 L869.4 233.8 L870.8 232.0 L872.5 229.9 L873.9 227.9 L875.6 227.0 L876.7 225.6 L878.4 224.3 L880.9 223.6 L882.8 222.0 L884.8 220.2 L886.9 219.1 L888.9 218.1 L890.6 217.0 L892.1 215.9 L892.9 214.9 L894.7 214.7 L896.7 214.1 L898.6 211.9 L899.9 209.1 L901.4 207.2 L903.6 206.2 L904.5 205.1 L905.7 204.0 L907.0 202.1 L908.1 199.8 L909.7 197.8 L911.2 195.8 L911.9 193.3 L912.9 191.5 L914.7 190.5 L915.4 188.7 L916.8 187.5 L917.9 187.4 L919.0 186.3 L921.2 183.6 L921.9 181.4 L923.4 180.6 L924.6 179.3 L925.4 176.9 L925.7 174.2 L927.9 172.9 L929.2 171.7 L930.4 170.0 L932.8 169.5 L935.7 169.7 L937.6 168.3 L939.1 165.3 L939.8 163.3 L941.8 161.4 L942.9 159.4 L944.6 157.8 L945.2 156.4 L947.3 154.8 L948.2 152.6 L950.4 150.6 L952.3 149.4 L954.1 147.2 L954.6 144.8 L955.3 143.9 L956.4 142.3 L956.9 140.4 L957.1 138.8 L958.5 136.4 L960.4 134.5 L961.4 133.2 L962.6 132.0 L965.1 130.7 L965.9 128.4 L965.9 125.2 L967.8 122.4 L968.7 120.4 L970.8 118.5 L970.9 117.0 L971.5 114.7 L973.3 112.1 L974.6 110.8 L974.5 109.1 L976.4 106.7 L977.4 105.2 L979.1 105.0 L980.1 103.5 L980.9 100.5 L982.5 98.1 L983.6 96.4 L984.5 95.4 L986.3 94.3 L988.7 92.9 L990.2 90.9 L992.0 87.6 L992.3 85.9 L993.7 85.9 L994.2 83.5 L996.4 81.6 L996.7 81.8 L998.0 80.3 L1000.1 76.8 L1001.1 74.2 L1004.2 73.8 L1004.4 72.7 L1006.1 71.1 L1008.7 69.3 L1011.3 67.4 L1012.7 66.9 L1015.5 67.7 L1017.7 67.8 L1018.7 66.9 L1021.7 65.7 L1023.6 65.2 L1025.7 65.6 L1027.9 65.7 L1030.1 63.7 L1031.8 62.1 L1034.2 62.4 L1035.7 62.0 L1038.4 60.8 L1040.2 60.9 L1042.9 61.8 L1045.4 61.7 L1048.4 61.3 L1050.3 61.4 L1052.2 61.8 L1054.9 61.1 L1056.1 59.9 L1059.5 59.4 L1061.2 60.4 L1062.4 61.7 L1065.4 62.0 L1067.9 62.3 L1069.9 62.4 L1071.4 61.8 L1073.7 61.3 L1075.0 61.2 L1078.1 61.4 L1080.3 60.2 L1082.3 58.8 L1084.2 60.3 L1086.3 61.6 L1088.6 61.2 L1090.1 61.6 L1091.9 63.2 L1094.4 64.1 L1097.6 64.7 L1099.4 65.5 L1101.0 65.2 L1102.4 65.0 L1105.4 65.3 L1107.0 65.8 L1110.7 66.7 L1111.7 67.9 L1113.3 69.8 L1114.3 72.3 L1115.7 73.9 L1116.5 75.8 L1117.6 79.2 L1118.6 81.9 L1120.0 84.0 L1121.5 85.5 L1121.8 86.2 L1123.2 87.5 L1124.2 89.4 L1124.9 91.4 L1127.3 92.3 L1128.9 93.1 L1130.0 95.4 L1132.4 97.7 L1134.8 99.1 L1136.5 100.6 L1137.9 101.5 L1139.3 102.1 L1140.3 105.2 L1141.6 108.6 L1142.5 109.7 L1143.2 110.2 L1144.1 111.3 L1144.8 114.1 L1146.4 117.1 L1147.7 118.5 L1147.4 119.9 L1149.1 121.9 L1149.8 123.3 L1150.9 123.7 L1152.5 124.7 L1153.7 127.6 L1155.6 129.3 L1156.5 130.0 L1157.5 132.7 L1159.0 135.9 L1159.4 137.7 L1161.3 139.0 L1162.0 140.3 L1163.3 142.1 L1164.7 144.7 L1165.4 147.6 L1166.1 149.8 L1167.1 150.7 L1167.4 151.1 L1169.5 152.8 L1170.3 155.7 L1172.3 158.1 L1173.1 159.9 L1175.1 160.7 L1175.7 162.4 L1175.9 164.7 L1177.1 165.9 L1178.1 168.0 L1179.6 171.4 L1180.2 173.3 L1180.9 173.4 L1181.9 174.0 L1183.5 175.0 L1184.4 176.6 L1186.5 180.5 L1187.5 183.8 L1188.7 184.3 L1190.6 184.5 L1192.7 185.8 L1195.1 188.2 L1195.2 191.0 L1196.3 194.0 L1198.0 196.8 L1198.4 198.9 L1199.3 200.5 L1200.3 201.2 L1201.7 200.6 L1204.4 202.1 L1206.3 204.6 L1207.7 206.2 L1210.3 208.1 L1211.0 210.6 L1212.2 212.7 L1214.7 214.2 L1214.9 215.7 L1216.5 217.4 L1216.8 219.8 L1218.9 221.7 L1219.9 222.7 L1220.4 224.4 L1223.7 224.0 L1225.2 222.8 L1227.3 221.6 L1229.9 221.1 L1231.3 223.0 L1233.1 225.0 L1234.4 226.7 L1235.9 227.9 L1237.6 228.2 L1239.6 229.3 L1240.9 230.8 L1243.0 232.3 L1244.3 235.7 L1245.5 238.2 L1247.7 237.6 L1250.5 237.3 L1252.6 238.1 L1254.0 239.9 L1256.2 242.5 L1256.9 244.7 L1258.8 246.6 L1259.6 248.5 L1261.0 251.0 L1263.0 252.6 L1265.4 251.9 L1267.8 251.5 L1269.1 250.2 L1271.1 249.2 L1272.9 250.1 L1275.2 250.9 L1277.9 249.5 L1279.3 248.2 L1282.6 248.5 L1283.7 248.9 L1285.9 249.4 L1288.5 251.4 L1289.7 252.2 L1290.6 253.2 L1292.7 254.6 L1294.1 256.1 L1296.0 257.9 L1297.3 260.1 L1298.9 262.7 L1301.2 265.1 L1302.6 264.2 L1305.4 263.2 L1307.4 262.2 L1310.1 259.1" fill="none" stroke="#FF0080" stroke-width="5.2" stroke-linejoin="round" stroke-linecap="butt"/>
<path d="M793.9 396.1 L796.4 398.2 L798.2 399.4 L800.0 398.9 L803.0 398.5 L805.0 399.7 L806.9 401.2 L808.6 398.9 L810.3 395.3 L813.3 393.7 L815.2 393.7 L816.7 393.3 L819.4 393.8 L821.0 393.3 L823.7 392.2 L825.3 391.2 L827.0 390.6 L828.5 387.8 L830.0 384.6 L831.1 383.0 L833.0 382.3 L834.5 381.0 L836.2 379.2 L837.5 377.2 L838.6 375.7 L840.1 374.2 L839.5 372.2 L841.4 368.8 L841.8 365.8 L843.5 364.0 L843.7 361.7 L843.4 359.3 L844.9 357.2 L845.6 355.4 L847.2 353.7 L847.5 353.2 L848.9 352.5 L850.1 349.8 L851.4 346.7 L852.5 344.1 L853.3 342.8 L855.4 341.9 L857.0 339.8 L858.0 337.6 L859.1 335.1 L860.3 332.9 L861.2 331.3 L861.7 330.0 L862.6 328.8 L863.9 326.6 L863.8 324.5 L864.8 323.0 L865.0 321.0 L866.8 319.1 L868.0 317.6 L869.2 316.2 L870.5 314.9 L872.8 313.1 L873.0 310.4 L874.1 308.3 L876.1 307.3 L876.3 306.3 L876.7 304.6 L878.5 302.1 L879.1 299.9 L881.1 298.1 L881.1 295.7 L882.4 293.5 L882.6 291.0 L883.9 288.2 L884.1 285.7 L885.1 284.3 L885.6 283.5 L885.8 282.3 L886.7 280.3 L887.0 278.0 L887.0 275.7 L886.9 273.3 L887.1 271.1 L888.0 269.6 L889.8 267.7 L889.8 264.3 L890.7 262.1 L891.8 261.2 L892.7 259.1 L894.4 257.3 L896.4 255.0 L898.7 253.1 L899.8 253.2 L901.3 251.7 L902.1 248.6 L904.0 246.3 L905.0 243.8 L905.7 241.2 L907.0 239.7 L908.5 238.8 L910.1 237.5 L911.1 235.4 L912.1 233.4 L913.0 231.2 L914.3 228.6 L915.2 227.0 L917.1 225.2 L916.6 221.8 L917.7 218.6 L919.1 217.3 L919.3 216.8 L920.7 216.0 L921.0 214.1 L921.8 211.1 L922.4 209.3 L923.3 208.1 L924.7 205.3 L927.2 202.8 L927.9 203.3 L929.1 203.4 L930.2 200.4 L931.0 196.8 L932.1 194.8 L932.5 194.5 L933.5 193.8 L934.9 191.2 L935.3 188.8 L935.9 187.2 L937.2 185.4 L938.2 183.4 L939.6 180.5 L940.2 178.3 L941.1 177.7 L942.4 176.5 L944.2 174.2 L944.7 171.0 L945.8 167.9 L946.8 166.1 L947.9 164.7 L949.2 163.3 L950.5 162.0 L950.4 160.2 L952.6 158.7 L953.1 156.7 L954.0 154.5 L956.3 153.0 L956.5 151.8 L958.5 149.9 L959.3 147.3 L959.8 144.8 L961.5 143.3 L962.8 143.3 L963.9 141.9 L964.5 138.8 L966.6 135.9 L968.1 134.0 L969.2 133.0 L971.7 132.6 L972.6 132.1 L974.2 129.7 L975.9 126.3 L977.4 124.9 L979.1 125.4 L981.5 123.9 L983.7 121.3 L985.5 119.9 L986.7 119.4 L987.3 120.0 L989.1 118.1 L989.6 114.8 L991.0 111.5 L991.7 108.7 L993.2 107.4 L994.9 106.3 L995.8 104.8 L998.6 102.4 L999.0 101.6 L1000.4 102.2 L1002.3 101.2 L1005.3 98.1 L1007.3 96.6 L1007.9 96.2 L1008.3 94.3 L1009.7 90.9 L1011.2 88.3 L1012.0 86.3 L1013.0 84.2 L1014.3 83.3 L1015.7 82.8 L1017.3 81.8 L1018.4 80.0 L1020.1 77.1 L1022.5 74.2 L1024.3 73.6 L1025.3 73.2 L1027.9 72.2 L1029.9 72.1 L1032.0 73.0 L1034.5 73.2 L1036.1 72.2 L1038.2 70.9 L1040.1 69.2 L1042.2 67.6 L1044.7 67.0 L1047.0 65.6 L1048.2 65.4 L1050.5 65.4 L1052.3 66.6 L1055.0 68.2 L1056.9 68.9 L1059.3 69.4 L1061.0 70.4 L1062.4 70.6 L1065.4 71.0 L1067.4 71.1 L1069.7 69.6 L1071.1 69.2 L1073.7 70.6 L1075.5 71.6 L1077.6 72.4 L1080.1 73.2 L1082.2 73.8 L1083.2 74.9 L1084.2 75.8 L1085.4 78.4 L1088.2 76.3 L1090.9 73.7 L1092.6 74.9 L1093.9 76.5 L1096.5 77.6 L1099.1 77.3 L1100.8 77.4 L1101.9 78.2 L1102.8 79.8 L1104.0 82.8 L1104.8 85.4 L1106.3 86.7 L1107.6 88.6 L1108.7 90.9 L1110.3 92.5 L1111.4 93.1 L1113.1 94.2 L1114.9 96.9 L1116.0 100.4 L1117.3 102.1 L1118.5 102.8 L1119.4 104.3 L1121.6 106.1 L1123.5 107.7 L1124.6 109.0 L1127.2 110.1 L1128.3 111.3 L1129.3 114.2 L1129.8 117.6 L1130.2 119.4 L1132.2 120.4 L1131.8 122.0 L1133.3 124.2 L1133.5 126.0 L1134.6 127.6 L1135.0 129.8 L1135.9 131.7 L1137.2 132.9 L1138.7 134.2 L1138.9 135.8 L1140.4 138.2 L1142.0 140.2 L1142.6 141.1 L1144.3 143.1 L1144.9 145.5 L1146.7 147.4 L1147.8 150.1 L1149.3 152.6 L1150.2 153.9 L1150.8 155.0 L1152.7 156.5 L1153.2 158.9 L1154.7 161.2 L1155.8 162.2 L1156.2 162.9 L1156.6 164.4 L1158.0 166.2 L1158.4 168.9 L1158.7 172.2 L1159.8 174.2 L1161.3 176.0 L1161.4 178.1 L1162.4 179.5 L1163.0 181.6 L1163.3 183.1 L1164.5 183.2 L1165.6 184.4 L1166.3 187.4 L1167.2 191.0 L1167.6 192.9 L1169.9 193.8 L1170.7 195.9 L1171.9 197.5 L1173.1 198.7 L1173.5 200.5 L1174.5 201.9 L1175.6 203.1 L1177.0 204.9 L1176.6 207.6 L1178.0 211.4 L1178.6 215.4 L1179.9 217.2 L1181.1 216.5 L1181.3 216.6 L1181.8 218.8 L1183.1 221.9 L1183.8 225.2 L1184.1 226.6 L1185.8 227.6 L1186.1 230.0 L1187.3 231.4 L1187.3 231.8 L1189.0 233.8 L1188.9 236.4 L1190.6 238.6 L1190.3 240.4 L1192.3 242.1 L1192.4 243.9 L1192.8 245.2 L1194.1 247.5 L1195.1 250.6 L1195.3 252.5 L1196.3 253.2 L1197.4 254.1 L1198.0 256.6 L1197.7 258.9 L1199.5 260.4 L1200.6 262.7 L1201.4 264.6 L1202.4 266.3 L1202.8 268.3 L1205.1 270.8 L1205.5 273.1 L1206.4 275.0 L1207.2 277.1 L1207.7 278.1 L1207.9 279.8 L1208.1 282.4 L1209.8 284.0 L1210.6 286.5 L1210.8 289.9 L1212.1 291.6 L1213.6 292.5 L1214.3 295.7 L1215.2 299.4 L1216.2 301.0 L1216.8 301.6 L1218.0 303.0 L1217.7 304.9 L1218.4 306.8 L1219.3 309.3 L1220.1 311.8 L1220.7 314.5 L1221.5 317.1 L1221.5 318.1 L1222.8 319.7 L1223.3 322.4 L1223.4 324.1 L1224.4 326.0 L1226.0 328.5 L1226.3 330.3 L1226.7 332.1 L1226.8 335.5 L1228.3 338.7 L1229.1 339.8 L1230.2 341.4 L1231.9 344.2 L1232.0 346.3 L1232.7 348.0 L1233.0 348.8 L1233.7 349.0 L1234.8 351.0 L1235.5 354.1 L1237.8 356.9 L1237.4 359.1 L1238.2 360.3 L1239.7 361.4 L1240.2 363.1 L1240.6 364.9 L1242.5 367.2 L1243.3 369.0 L1244.3 370.0 L1246.4 371.0 L1247.8 373.3 L1248.9 376.6 L1250.7 379.1 L1252.4 380.6 L1253.5 382.0 L1254.7 383.3 L1256.3 384.6 L1258.8 385.8 L1260.4 387.2 L1261.3 389.1 L1262.5 391.7 L1263.8 394.2 L1264.5 396.1 L1266.3 398.2 L1266.7 401.2 L1269.1 402.9 L1270.6 403.2 L1272.0 404.5 L1273.4 406.6 L1274.7 408.0 L1276.8 409.6 L1278.8 411.2 L1279.8 412.1 L1282.2 412.6 L1283.9 414.2 L1286.3 414.8 L1287.9 415.8 L1290.6 418.1 L1292.4 420.0 L1294.7 421.5 L1296.5 420.9 L1298.4 420.4 L1300.8 422.1 L1303.4 421.7 L1305.8 420.2 L1307.1 418.9 L1310.3 418.1" fill="none" stroke="#0000FF" stroke-width="5.2" stroke-linejoin="round" stroke-linecap="butt"/>
<path d="M794.3 504.1 L796.5 505.7 L798.4 506.4 L799.8 505.3 L801.5 504.7 L803.6 503.1 L804.6 502.0 L807.1 501.2 L809.6 498.5 L811.7 495.6 L810.8 493.4 L812.3 492.4 L813.2 491.6 L813.3 490.2 L813.8 488.6 L814.1 487.1 L815.0 484.8 L817.4 483.5 L818.8 482.7 L821.6 481.3 L823.4 479.2 L825.8 478.1 L827.5 476.6 L829.3 474.8 L830.8 473.8 L831.8 471.2 L833.9 468.8 L836.7 468.5 L838.6 468.5 L838.5 465.8 L839.3 463.5 L839.0 461.7 L839.6 459.6 L839.1 457.2 L840.3 454.4 L841.1 452.1 L841.0 450.3 L841.8 448.7 L841.7 447.8 L842.4 445.8 L842.6 442.8 L843.3 440.2 L845.5 437.6 L845.5 435.3 L846.3 433.8 L847.9 432.3 L849.1 429.4 L850.1 427.3 L851.0 427.2 L852.3 425.5 L853.5 423.4 L854.2 421.6 L854.3 418.7 L856.3 416.2 L856.5 415.3 L856.6 413.4 L858.4 410.9 L858.7 409.4 L859.6 407.0 L860.9 404.7 L860.6 403.7 L861.3 401.0 L862.1 398.2 L863.4 396.9 L864.5 395.8 L865.3 393.6 L866.1 391.3 L866.2 390.4 L868.0 389.3 L869.1 387.2 L869.3 385.5 L870.0 383.9 L870.6 381.7 L871.9 378.8 L872.0 376.7 L874.1 376.0 L874.1 374.5 L876.1 371.8 L877.9 369.5 L879.6 366.5 L880.9 363.2 L881.3 361.0 L882.7 358.9 L883.6 358.1 L884.6 358.0 L885.4 355.9 L886.4 352.7 L886.3 350.2 L888.5 347.2 L888.0 344.4 L888.5 343.4 L889.3 341.9 L890.5 339.2 L891.3 336.7 L893.0 334.9 L893.6 333.7 L893.9 332.2 L895.1 331.1 L895.9 329.5 L896.7 325.7 L897.7 322.3 L898.4 320.1 L899.9 318.4 L900.2 317.5 L900.9 314.9 L901.2 311.5 L901.4 310.1 L902.6 308.3 L902.9 305.3 L904.4 303.2 L905.2 302.8 L905.3 302.1 L906.4 299.5 L907.6 296.4 L908.8 295.1 L910.4 294.3 L910.6 292.4 L911.5 290.0 L911.9 286.5 L912.7 284.0 L913.9 282.2 L914.2 279.9 L915.6 278.4 L915.6 276.7 L916.4 273.7 L917.1 271.6 L917.9 271.5 L919.1 269.8 L918.8 266.4 L919.6 263.2 L920.1 260.6 L921.9 259.3 L922.1 257.0 L922.8 255.7 L923.5 254.6 L923.5 251.4 L925.2 248.6 L925.8 245.8 L926.6 243.0 L927.4 241.6 L928.1 240.3 L928.9 237.8 L929.7 236.4 L930.9 235.5 L932.3 233.1 L932.3 231.1 L934.5 230.4 L935.5 229.1 L935.9 226.8 L937.5 224.6 L938.1 222.5 L938.5 218.9 L940.1 215.9 L940.2 214.6 L940.8 213.3 L941.0 211.4 L943.0 209.4 L943.0 208.1 L943.7 206.3 L944.1 202.6 L945.5 199.6 L945.1 198.4 L946.3 197.6 L946.7 195.5 L947.2 192.3 L947.6 189.6 L948.3 188.4 L948.4 186.8 L948.3 184.5 L948.7 182.9 L950.8 180.8 L950.2 178.0 L952.1 175.9 L953.4 174.5 L952.2 171.6 L953.7 168.7 L954.3 167.3 L954.7 165.7 L955.0 163.9 L956.5 161.4 L957.9 158.6 L958.1 156.6 L958.9 154.1 L959.7 151.8 L960.5 150.6 L961.3 149.1 L962.7 146.7 L962.2 144.0 L962.6 141.9 L964.3 140.3 L964.5 138.7 L965.2 136.8 L965.5 135.2 L966.7 132.8 L967.3 129.1 L968.3 126.9 L968.7 126.0 L969.2 123.8 L970.9 120.4 L971.6 118.3 L971.8 118.0 L973.3 117.5 L974.6 115.1 L975.2 112.0 L976.0 110.8 L977.2 110.0 L977.7 107.3 L978.5 104.4 L979.9 102.2 L980.5 101.0 L981.3 100.3 L983.3 98.4 L985.0 95.9 L986.9 94.1 L988.6 92.5 L990.0 90.5 L991.2 88.8 L992.1 87.8 L993.8 86.5 L994.8 85.2 L996.6 83.9 L997.9 82.0 L999.3 79.5 L1000.4 77.2 L1002.7 75.8 L1005.2 74.7 L1007.4 74.1 L1008.6 72.1 L1009.9 70.7 L1013.3 71.2 L1014.6 70.3 L1017.3 68.6 L1019.6 68.3 L1022.1 68.4 L1023.5 67.0 L1025.7 65.6 L1027.6 65.0 L1030.0 64.3 L1031.5 63.9 L1034.3 63.6 L1036.3 63.6 L1038.8 63.7 L1040.3 63.4 L1042.7 63.4 L1044.3 63.3 L1046.3 63.1 L1048.1 63.9 L1050.3 65.0 L1052.7 65.3 L1054.9 65.4 L1057.2 66.2 L1058.7 66.6 L1061.2 66.0 L1063.4 64.6 L1065.6 65.0 L1067.5 66.5 L1069.6 66.8 L1071.4 67.4 L1073.7 67.4 L1075.7 66.7 L1077.2 67.9 L1079.7 69.9 L1081.2 69.9 L1084.4 69.6 L1086.6 70.0 L1088.3 71.1 L1090.6 72.7 L1092.7 73.9 L1094.6 73.9 L1097.4 74.5 L1098.9 75.5 L1100.7 77.5 L1102.3 78.7 L1104.7 79.8 L1105.0 82.3 L1107.4 83.9 L1107.9 84.3 L1109.2 85.5 L1110.1 87.1 L1111.9 89.6 L1112.2 91.7 L1113.3 92.7 L1114.6 94.2 L1115.4 96.2 L1116.4 98.1 L1118.5 99.8 L1118.7 102.0 L1119.7 104.7 L1121.6 106.3 L1122.1 108.1 L1124.1 110.2 L1124.6 111.9 L1126.7 113.2 L1128.6 114.7 L1129.4 117.0 L1130.4 118.2 L1131.6 119.4 L1132.2 121.4 L1133.3 122.5 L1134.1 124.3 L1134.4 127.0 L1135.7 129.1 L1137.0 131.2 L1137.1 133.2 L1138.5 134.9 L1139.5 136.9 L1140.6 138.8 L1140.4 140.7 L1142.7 143.1 L1142.0 144.1 L1143.4 143.7 L1145.1 145.9 L1144.5 149.6 L1146.6 151.4 L1146.7 152.8 L1148.1 154.8 L1148.8 157.6 L1149.2 159.9 L1149.7 160.5 L1150.8 161.7 L1151.4 163.4 L1152.2 164.4 L1153.8 166.2 L1154.0 168.6 L1155.6 171.0 L1156.3 172.3 L1157.2 172.6 L1157.8 175.1 L1158.6 178.8 L1160.3 180.8 L1160.2 182.5 L1160.9 183.9 L1161.7 186.4 L1162.6 189.3 L1163.7 190.0 L1164.3 191.7 L1164.5 194.9 L1165.5 196.5 L1166.5 197.7 L1168.3 200.8 L1170.4 203.2 L1170.6 204.1 L1172.3 206.6 L1172.7 210.6 L1173.8 212.4 L1175.3 212.4 L1175.5 214.4 L1176.4 217.3 L1177.1 218.9 L1177.4 220.6 L1178.1 223.1 L1178.6 225.3 L1179.7 227.0 L1180.8 229.8 L1181.8 232.3 L1182.5 234.4 L1183.0 236.0 L1183.5 236.7 L1184.7 238.5 L1185.6 241.5 L1185.5 243.8 L1187.1 244.9 L1187.3 245.6 L1188.5 246.5 L1189.4 248.1 L1189.8 250.1 L1190.8 252.1 L1191.8 254.1 L1192.2 256.6 L1193.6 259.5 L1194.4 261.4 L1195.2 262.2 L1195.3 263.3 L1196.4 265.9 L1197.0 268.9 L1197.9 271.2 L1198.8 273.1 L1199.0 274.8 L1200.0 276.4 L1201.3 279.0 L1201.9 281.3 L1203.2 282.1 L1203.8 283.9 L1204.2 286.3 L1205.6 287.8 L1206.6 289.6 L1207.3 291.3 L1209.1 292.7 L1209.0 294.5 L1209.4 296.4 L1210.7 299.2 L1211.4 302.5 L1212.5 304.1 L1214.1 304.9 L1213.9 306.7 L1215.0 308.6 L1215.2 310.5 L1215.9 312.9 L1216.8 314.4 L1217.8 315.4 L1218.4 316.2 L1219.4 317.4 L1220.0 319.4 L1220.5 322.2 L1221.5 324.9 L1222.9 326.8 L1222.9 328.6 L1224.4 329.7 L1225.6 331.0 L1225.4 333.3 L1226.8 334.7 L1227.6 336.0 L1226.7 339.4 L1228.4 342.4 L1228.7 343.5 L1228.6 344.5 L1229.9 346.4 L1229.0 348.7 L1230.6 351.1 L1230.6 353.4 L1230.6 356.0 L1231.5 359.0 L1231.5 361.2 L1232.8 361.5 L1233.3 363.4 L1234.1 367.5 L1234.9 369.5 L1234.9 370.6 L1236.2 372.3 L1236.5 373.6 L1236.5 375.7 L1238.7 378.2 L1239.6 379.8 L1240.0 381.7 L1241.4 384.1 L1241.6 386.0 L1241.8 388.0 L1243.1 390.8 L1244.0 393.8 L1245.1 395.0 L1245.8 395.8 L1246.0 397.0 L1247.3 397.6 L1248.6 399.5 L1250.0 402.9 L1250.2 405.8 L1250.6 407.4 L1251.7 408.6 L1252.9 411.0 L1253.7 413.0 L1253.6 414.9 L1254.9 418.1 L1256.4 419.9 L1257.5 419.9 L1258.0 420.5 L1259.9 422.9 L1260.8 425.9 L1261.4 428.9 L1262.9 430.6 L1262.8 431.8 L1263.6 433.5 L1264.4 436.1 L1265.2 438.3 L1265.3 439.3 L1266.2 440.7 L1267.7 443.4 L1268.7 446.1 L1270.2 447.5 L1271.4 448.7 L1271.7 451.8 L1272.8 454.8 L1273.3 455.5 L1274.6 455.6 L1275.7 457.9 L1276.5 460.1 L1277.1 460.4 L1277.4 461.9 L1278.8 464.8 L1279.4 467.1 L1281.2 468.5 L1281.4 470.4 L1282.8 472.5 L1284.8 473.9 L1285.3 474.3 L1285.8 474.7 L1287.2 477.0 L1287.9 480.9 L1289.1 483.9 L1290.3 484.8 L1291.7 484.6 L1293.7 485.8 L1295.6 488.2 L1296.4 489.5 L1298.5 489.7 L1300.6 491.0 L1302.8 492.2 L1305.4 493.2 L1307.4 494.1 L1309.7 494.5" fill="none" stroke="#FF0000" stroke-width="5.2" stroke-linejoin="round" stroke-linecap="butt"/>
<path d="M793.9 499.9 L795.4 500.2 L798.2 498.7 L800.1 497.8 L801.3 497.1 L802.5 495.9 L803.5 493.9 L804.8 491.5 L805.8 489.2 L806.7 486.8 L807.7 484.9 L808.9 483.5 L809.9 482.3 L811.0 481.4 L813.1 479.3 L814.3 477.0 L815.6 475.9 L816.6 474.9 L817.9 473.9 L818.3 472.6 L820.8 469.3 L822.0 466.4 L822.5 464.7 L823.5 463.4 L824.8 462.3 L825.7 460.2 L825.7 458.7 L827.2 457.2 L828.1 454.1 L828.6 451.9 L830.5 450.1 L831.2 448.2 L831.6 447.0 L832.7 445.8 L833.4 444.1 L834.3 442.5 L835.2 440.3 L836.7 438.0 L837.1 436.7 L837.7 434.0 L838.4 430.6 L839.6 429.3 L839.9 428.8 L840.4 426.7 L841.8 423.7 L843.2 421.6 L843.1 420.2 L844.2 418.3 L844.9 416.0 L846.2 413.6 L846.7 410.6 L846.9 408.4 L848.8 407.5 L848.9 405.7 L849.4 403.2 L850.4 401.2 L851.5 399.2 L852.7 397.6 L853.0 395.7 L853.5 393.4 L854.8 390.8 L855.5 387.8 L855.4 384.4 L856.2 381.9 L856.9 381.1 L857.2 380.0 L857.8 377.2 L859.3 374.0 L859.3 372.0 L859.8 369.9 L861.5 367.8 L862.5 367.5 L863.2 365.7 L863.4 362.4 L864.4 361.2 L864.9 359.6 L866.0 356.6 L866.1 355.3 L867.5 354.6 L870.5 352.4 L871.6 348.7 L874.8 346.8 L875.1 346.2 L875.1 344.4 L877.1 340.9 L877.2 338.1 L878.6 336.8 L879.2 335.6 L879.9 333.5 L880.8 331.7 L881.2 330.3 L882.3 328.3 L883.0 325.8 L884.5 323.7 L884.2 321.9 L885.1 318.9 L885.8 315.5 L886.7 313.8 L886.7 312.8 L887.5 310.5 L887.7 307.9 L889.6 307.3 L888.6 306.5 L889.9 303.2 L890.3 300.2 L891.1 298.0 L892.1 296.3 L893.4 295.3 L895.2 293.8 L896.4 290.9 L897.3 288.7 L898.5 288.2 L899.9 286.8 L901.1 283.3 L902.5 280.2 L903.9 279.1 L904.9 277.6 L905.1 275.9 L906.8 273.9 L907.4 272.3 L908.6 271.1 L908.9 269.5 L909.8 267.0 L910.2 263.9 L911.2 262.2 L912.0 261.2 L912.1 258.5 L912.5 255.3 L914.2 253.1 L916.0 251.6 L916.0 250.6 L917.3 249.3 L919.3 247.6 L920.1 246.1 L920.7 244.2 L921.4 242.1 L921.6 240.4 L923.5 237.9 L924.0 234.9 L923.8 232.5 L925.2 230.2 L926.0 227.4 L926.8 225.1 L927.9 224.0 L930.5 222.7 L930.7 221.2 L933.0 219.2 L934.0 217.6 L935.2 215.9 L936.2 213.8 L937.1 211.9 L937.3 209.7 L938.2 208.2 L939.6 207.3 L940.3 205.4 L940.9 202.8 L941.1 200.8 L941.7 200.3 L943.7 198.4 L944.4 195.1 L944.9 193.8 L945.6 192.9 L946.1 191.5 L947.2 189.2 L948.3 186.8 L949.2 185.4 L949.7 183.0 L951.1 181.0 L951.8 179.8 L953.1 177.9 L953.7 175.9 L954.0 173.3 L955.3 171.2 L956.6 169.5 L957.0 168.2 L958.3 167.4 L958.7 166.1 L959.8 163.7 L960.3 159.9 L961.8 156.3 L961.9 154.7 L962.8 153.9 L964.1 152.8 L965.0 151.2 L964.8 148.6 L966.5 146.7 L966.4 146.0 L967.5 144.4 L968.6 142.9 L970.3 141.1 L970.6 138.1 L971.9 134.8 L972.5 133.5 L973.0 133.0 L974.0 130.4 L975.3 127.7 L975.8 125.6 L975.6 123.2 L976.7 120.8 L977.2 118.4 L978.0 115.6 L978.5 113.7 L979.6 113.2 L980.3 111.1 L981.5 108.5 L983.2 107.9 L984.6 106.2 L986.2 103.3 L987.2 102.3 L987.9 102.1 L989.2 100.5 L990.9 98.5 L992.1 96.8 L993.6 94.4 L995.1 92.9 L995.0 91.9 L996.9 89.6 L998.6 87.6 L999.3 85.9 L1001.8 83.1 L1002.5 81.0 L1004.9 81.5 L1006.7 81.2 L1009.0 80.7 L1010.8 78.8 L1012.6 77.1 L1013.6 76.7 L1015.2 75.0 L1017.6 73.1 L1019.7 71.6 L1021.4 71.0 L1023.5 71.4 L1026.1 71.5 L1028.1 70.9 L1029.6 70.8 L1032.1 71.2 L1034.0 71.4 L1036.3 71.7 L1038.3 71.4 L1040.5 69.8 L1042.3 68.5 L1044.4 67.5 L1046.8 65.7 L1048.6 66.7 L1050.5 67.9 L1052.7 67.4 L1054.9 66.5 L1057.4 67.4 L1059.9 68.9 L1060.8 69.1 L1062.9 67.9 L1065.7 67.4 L1067.2 68.1 L1069.5 68.6 L1071.1 68.8 L1073.9 68.9 L1075.2 69.1 L1078.3 69.6 L1079.7 70.8 L1082.2 71.5 L1084.6 71.6 L1086.0 71.0 L1088.4 71.0 L1091.3 72.2 L1092.1 74.6 L1094.8 76.8 L1096.1 78.1 L1098.5 78.9 L1099.9 79.7 L1101.1 80.9 L1102.7 83.0 L1104.7 85.0 L1105.5 86.1 L1105.8 88.0 L1107.7 90.5 L1108.1 92.5 L1109.2 95.2 L1110.5 97.8 L1111.2 98.7 L1112.4 99.4 L1113.5 100.6 L1113.7 101.8 L1115.1 103.2 L1115.9 104.8 L1116.7 106.7 L1119.2 109.3 L1120.9 112.1 L1121.6 113.8 L1123.0 114.5 L1124.6 115.5 L1125.6 116.7 L1126.2 117.8 L1127.3 119.6 L1128.3 122.6 L1129.0 125.1 L1130.5 126.5 L1132.4 128.1 L1132.1 129.1 L1133.6 130.6 L1134.4 133.3 L1136.1 136.2 L1135.7 138.2 L1137.4 140.3 L1138.0 141.8 L1138.3 142.5 L1139.3 144.2 L1140.3 147.0 L1141.7 150.0 L1141.9 152.9 L1143.1 154.3 L1143.8 155.4 L1144.2 158.2 L1145.0 159.4 L1145.7 159.2 L1147.2 161.7 L1147.8 164.5 L1148.5 166.0 L1148.7 168.6 L1149.6 171.9 L1150.8 174.3 L1151.2 176.5 L1151.6 178.3 L1152.3 180.5 L1153.8 183.9 L1154.7 186.1 L1155.4 187.6 L1156.6 188.5 L1156.2 190.0 L1156.9 191.8 L1158.4 193.3 L1159.5 195.3 L1159.6 197.5 L1160.7 199.8 L1161.3 201.7 L1161.6 203.6 L1162.0 206.3 L1162.8 208.7 L1163.5 210.4 L1164.4 212.2 L1165.3 212.9 L1166.3 213.2 L1167.5 214.9 L1169.0 216.8 L1170.7 218.4 L1171.1 220.2 L1172.1 222.2 L1173.4 224.8 L1174.2 227.4 L1175.8 229.9 L1176.1 231.1 L1177.0 231.7 L1178.4 233.9 L1177.7 236.0 L1178.5 237.5 L1179.7 239.1 L1180.8 240.6 L1182.0 242.8 L1182.6 245.4 L1182.9 247.7 L1183.3 249.2 L1184.8 249.6 L1185.4 251.4 L1185.9 254.7 L1186.6 258.0 L1188.1 260.1 L1188.5 261.6 L1189.5 263.8 L1189.7 266.0 L1189.8 267.2 L1190.3 268.4 L1190.6 270.0 L1191.1 271.7 L1191.3 274.0 L1193.2 276.4 L1193.9 278.3 L1195.8 280.3 L1196.6 281.9 L1197.6 283.1 L1197.1 285.6 L1199.3 289.0 L1200.1 291.7 L1201.4 293.4 L1203.2 294.7 L1204.8 296.2 L1206.1 297.9 L1209.5 299.9 L1209.3 302.6 L1210.6 304.5 L1211.0 305.1 L1212.4 305.7 L1212.7 307.6 L1214.6 310.5 L1215.4 312.8 L1216.7 314.0 L1217.9 315.5 L1219.4 317.5 L1219.9 319.1 L1220.5 320.1 L1221.8 321.9 L1223.3 324.6 L1224.8 326.1 L1224.2 327.1 L1225.7 328.6 L1227.0 329.4 L1228.5 330.3 L1230.0 332.6 L1231.6 335.2 L1232.5 337.0 L1234.1 338.6 L1234.2 339.8 L1235.1 341.1 L1235.6 343.5 L1236.9 345.6 L1238.3 348.4 L1239.0 351.4 L1240.6 352.7 L1240.6 353.9 L1241.3 356.0 L1242.8 358.1 L1242.7 359.5 L1244.7 360.8 L1245.4 362.7 L1245.6 364.0 L1247.4 365.6 L1248.4 367.7 L1249.8 368.6 L1250.3 369.9 L1251.2 372.5 L1252.5 374.2 L1253.2 376.1 L1253.7 378.7 L1255.2 380.3 L1256.0 381.7 L1256.1 384.1 L1257.0 386.6 L1257.6 388.1 L1258.6 388.7 L1259.3 391.3 L1260.4 394.4 L1261.4 396.0 L1262.5 396.9 L1262.4 398.4 L1263.2 400.7 L1263.9 402.7 L1265.1 404.2 L1266.2 405.9 L1266.3 408.2 L1267.4 410.2 L1267.9 412.3 L1268.5 415.4 L1269.6 417.1 L1270.9 418.3 L1271.3 420.9 L1271.3 423.5 L1272.2 425.1 L1273.1 426.8 L1274.6 428.9 L1273.9 430.3 L1276.1 432.8 L1276.0 437.2 L1277.4 440.4 L1278.5 442.5 L1278.4 444.2 L1280.7 444.5 L1282.0 444.3 L1282.9 446.1 L1284.0 448.8 L1284.3 450.1 L1284.8 451.6 L1286.1 453.9 L1286.7 455.5 L1287.6 456.7 L1288.1 459.1 L1289.0 460.8 L1288.6 462.1 L1290.7 465.3 L1291.8 467.5 L1292.2 469.0 L1293.0 471.7 L1294.0 473.5 L1294.4 475.2 L1295.7 476.2 L1297.7 476.1 L1299.0 478.6 L1298.9 482.2 L1300.7 484.0 L1303.1 482.3 L1305.4 480.7 L1306.7 479.7 L1309.7 479.8" fill="none" stroke="#3AAA6C" stroke-width="5.2" stroke-linejoin="round" stroke-linecap="butt"/>
<path d="M793.6 433.8 L795.4 433.8 L798.5 432.7 L801.4 433.2 L801.8 433.4 L803.6 433.0 L804.8 430.9 L806.4 428.6 L808.3 427.7 L808.0 426.7 L809.6 424.4 L810.2 423.2 L811.6 421.9 L812.9 420.0 L813.2 417.9 L814.6 415.6 L816.7 414.5 L817.8 413.7 L818.8 411.2 L820.8 407.9 L821.0 405.4 L822.1 404.1 L823.7 403.4 L824.0 401.9 L825.1 400.0 L826.8 398.1 L827.1 396.2 L828.1 394.6 L829.6 392.9 L831.3 391.1 L832.6 389.4 L833.5 386.8 L835.9 383.6 L836.6 382.0 L837.6 381.2 L838.6 379.4 L840.1 377.2 L841.5 375.9 L842.5 375.2 L845.3 374.3 L846.4 372.5 L847.6 370.3 L848.9 369.3 L849.3 368.2 L851.5 366.7 L851.8 364.9 L853.6 362.2 L854.4 360.0 L854.7 358.4 L856.2 356.3 L857.0 354.7 L857.9 353.1 L858.8 351.0 L859.8 348.8 L860.6 347.0 L861.9 345.0 L862.5 342.5 L862.9 340.7 L863.6 338.6 L864.2 336.3 L864.9 334.4 L865.7 332.7 L866.7 330.7 L867.3 328.3 L867.6 326.2 L869.2 325.1 L869.6 323.2 L871.5 320.5 L874.1 319.3 L875.1 318.1 L875.4 315.6 L876.4 313.7 L878.3 312.9 L878.4 311.1 L878.8 308.6 L879.6 305.6 L881.0 303.4 L881.5 302.4 L882.6 300.3 L883.5 297.7 L884.7 295.9 L885.6 294.3 L886.5 291.8 L888.1 289.8 L889.5 289.0 L889.4 287.9 L890.5 285.8 L892.2 283.6 L891.9 281.5 L892.7 278.6 L894.0 276.9 L894.9 275.9 L895.2 273.3 L896.1 270.9 L896.0 269.0 L896.6 266.6 L896.9 264.6 L897.5 262.8 L897.8 260.4 L898.7 257.6 L898.9 256.0 L899.6 254.9 L899.4 252.4 L899.8 249.4 L900.5 246.8 L901.2 244.0 L902.1 241.6 L902.4 240.7 L903.3 239.6 L904.0 236.2 L904.0 232.9 L904.6 231.5 L906.3 230.2 L906.3 229.1 L908.1 227.3 L908.0 224.4 L908.4 221.7 L909.2 219.8 L910.2 218.1 L912.3 215.6 L911.3 214.3 L912.4 213.4 L914.2 210.5 L915.9 208.3 L918.0 207.1 L918.8 205.7 L919.6 205.0 L922.1 204.0 L923.6 202.4 L924.4 200.1 L926.6 197.9 L928.2 196.3 L929.7 195.1 L931.2 194.4 L932.9 193.3 L934.7 191.3 L935.7 189.2 L937.7 187.3 L939.0 185.9 L939.5 184.2 L941.7 182.0 L942.9 179.7 L944.6 177.8 L945.6 175.8 L947.6 173.7 L948.9 171.5 L950.3 170.7 L951.4 170.4 L951.9 167.9 L953.7 165.8 L955.4 165.2 L956.6 163.6 L957.5 161.4 L958.4 160.4 L959.4 158.3 L959.9 155.3 L961.3 154.1 L963.5 152.9 L965.5 150.8 L966.7 149.0 L967.4 148.0 L968.3 145.2 L969.7 141.8 L969.7 141.5 L970.7 140.1 L971.6 136.9 L972.7 135.2 L973.3 133.7 L974.3 131.7 L975.7 129.8 L976.9 128.8 L978.6 127.4 L980.5 125.1 L981.6 122.4 L982.9 120.5 L984.2 119.3 L986.1 117.7 L988.1 116.1 L988.9 115.1 L989.7 114.3 L990.7 112.0 L991.7 109.5 L992.1 106.8 L993.1 104.4 L992.9 102.6 L994.7 101.1 L995.1 99.5 L996.1 97.1 L996.4 94.4 L997.5 91.0 L997.9 88.6 L999.4 87.0 L1000.1 85.2 L1001.9 84.3 L1002.4 82.2 L1004.7 80.7 L1006.5 79.6 L1008.8 77.1 L1010.7 74.1 L1012.2 71.5 L1014.3 70.6 L1015.4 70.1 L1016.8 69.2 L1019.2 69.9 L1022.4 70.1 L1024.0 68.3 L1025.8 66.0 L1027.9 65.1 L1030.0 65.2 L1032.2 66.2 L1035.0 66.2 L1036.8 65.2 L1038.4 64.8 L1039.8 64.9 L1042.2 64.5 L1044.3 64.5 L1046.2 64.5 L1048.6 65.7 L1050.4 66.1 L1052.8 65.8 L1054.9 65.5 L1056.7 65.5 L1058.5 64.9 L1060.9 64.6 L1062.9 65.4 L1064.9 65.0 L1067.4 63.6 L1069.9 62.7 L1071.4 62.1 L1073.5 61.5 L1075.4 61.3 L1078.0 61.5 L1080.1 62.3 L1082.2 63.1 L1084.8 62.7 L1086.4 62.0 L1088.8 62.6 L1090.4 62.9 L1092.8 63.6 L1094.1 65.6 L1096.4 67.0 L1098.4 68.1 L1099.3 69.0 L1101.1 70.5 L1103.3 72.6 L1104.8 74.9 L1106.9 76.4 L1107.2 77.5 L1109.7 80.0 L1111.8 82.7 L1113.2 84.6 L1114.3 85.7 L1116.6 86.9 L1117.9 88.6 L1118.9 89.4 L1119.9 90.0 L1121.0 91.3 L1122.3 93.1 L1122.6 95.0 L1122.9 96.8 L1125.3 99.4 L1124.9 103.1 L1126.8 106.1 L1127.6 108.2 L1128.5 109.9 L1129.0 111.3 L1130.7 113.1 L1131.4 114.3 L1132.4 115.1 L1133.4 116.9 L1134.1 120.1 L1135.9 122.3 L1136.0 123.4 L1137.1 125.3 L1137.9 127.6 L1139.0 130.1 L1140.0 131.7 L1140.9 132.0 L1142.1 134.0 L1143.2 137.5 L1144.3 139.6 L1145.6 140.7 L1146.8 142.2 L1148.4 143.7 L1150.2 145.0 L1151.5 146.4 L1152.8 148.9 L1153.9 151.8 L1153.9 153.8 L1155.8 154.9 L1156.7 156.0 L1157.3 157.4 L1158.2 158.9 L1159.0 160.7 L1160.8 162.7 L1161.7 164.5 L1162.1 166.4 L1162.7 168.8 L1163.1 172.5 L1165.0 175.0 L1165.5 176.0 L1165.7 177.2 L1166.0 179.1 L1166.9 180.9 L1167.4 182.6 L1167.9 185.0 L1168.7 187.9 L1169.4 191.3 L1170.2 194.5 L1172.3 195.4 L1173.5 195.0 L1175.7 196.6 L1177.3 200.2 L1179.3 202.5 L1180.3 204.2 L1181.6 205.6 L1182.0 207.7 L1182.4 210.3 L1183.3 211.7 L1185.4 212.3 L1184.8 213.2 L1186.5 215.6 L1188.2 218.3 L1189.0 220.0 L1190.5 221.2 L1192.2 222.5 L1193.6 224.0 L1194.9 225.2 L1196.8 227.2 L1198.4 230.2 L1200.2 232.0 L1201.2 232.5 L1201.9 233.6 L1203.1 235.4 L1204.3 237.3 L1205.1 239.5 L1206.1 241.8 L1208.2 243.2 L1208.6 244.4 L1210.9 245.4 L1213.0 246.1 L1213.5 249.4 L1213.8 252.6 L1214.7 253.4 L1216.7 255.0 L1217.0 258.2 L1217.1 260.6 L1217.5 261.7 L1217.7 263.6 L1218.3 265.8 L1218.2 266.5 L1219.0 268.2 L1219.9 270.3 L1221.1 272.7 L1222.4 277.2 L1222.4 279.9 L1224.3 279.6 L1225.7 280.8 L1227.0 283.4 L1228.1 285.5 L1229.6 287.2 L1231.1 289.1 L1231.8 290.7 L1233.3 292.0 L1234.8 294.1 L1235.7 296.4 L1237.2 297.9 L1237.6 299.3 L1239.3 301.0 L1240.0 303.4 L1241.5 305.6 L1242.6 306.3 L1243.0 306.9 L1244.9 308.8 L1246.0 311.0 L1247.1 312.5 L1248.2 315.2 L1249.8 318.1 L1250.8 319.4 L1252.2 320.7 L1253.4 321.6 L1254.7 322.8 L1255.6 324.8 L1256.3 325.5 L1257.9 326.7 L1257.6 329.8 L1259.8 332.7 L1260.5 335.9 L1261.4 339.2 L1262.0 340.1 L1263.2 340.8 L1264.7 342.7 L1265.7 343.8 L1267.1 346.4 L1268.0 350.4 L1268.9 351.4 L1270.6 352.1 L1271.5 355.3 L1272.9 358.4 L1272.6 360.7 L1273.6 362.6 L1274.9 364.8 L1275.5 367.3 L1277.1 368.4 L1277.9 369.7 L1280.0 371.7 L1280.7 373.7 L1282.2 375.9 L1283.7 377.3 L1284.1 378.3 L1285.7 380.1 L1286.7 382.7 L1288.6 384.6 L1288.9 384.7 L1290.7 385.5 L1291.9 388.2 L1293.7 390.4 L1295.3 392.0 L1296.8 391.7 L1299.6 391.4 L1301.2 390.7 L1302.6 389.8 L1305.1 389.7 L1306.9 390.5 L1310.3 391.8" fill="none" stroke="#B07CE0" stroke-width="5.2" stroke-linejoin="round" stroke-linecap="butt"/>
<path d="M793.9 205.3 L796.1 203.9 L798.7 202.3 L800.0 200.8 L802.6 199.8 L804.4 200.1 L806.7 199.8 L808.6 199.7 L811.5 199.2 L812.9 195.9 L813.9 195.0 L816.3 195.0 L817.1 192.7 L819.1 190.7 L819.6 189.8 L821.3 189.4 L823.4 189.0 L826.6 187.7 L828.2 187.6 L829.8 188.3 L832.2 188.7 L833.7 187.1 L835.4 186.1 L836.7 185.3 L839.2 183.5 L840.6 181.7 L841.8 180.0 L844.0 178.1 L845.9 176.1 L847.3 175.2 L848.8 174.6 L851.3 175.2 L853.4 175.1 L856.0 172.2 L857.1 170.9 L859.6 171.7 L861.5 171.5 L863.4 170.4 L865.8 170.0 L867.3 169.4 L869.6 166.6 L871.5 164.5 L874.2 164.9 L876.1 165.8 L878.0 165.3 L880.3 164.4 L882.8 164.3 L884.5 162.9 L885.7 161.4 L889.8 161.0 L890.8 160.3 L893.0 158.9 L893.9 157.9 L895.9 157.3 L897.7 156.5 L899.5 154.8 L901.3 154.4 L904.3 154.5 L905.4 153.4 L907.7 152.4 L910.8 152.7 L912.1 152.3 L913.5 152.2 L916.5 153.1 L918.1 151.7 L920.1 148.8 L922.1 146.8 L923.0 145.3 L925.1 143.5 L926.4 143.0 L927.7 141.8 L929.4 139.3 L931.0 138.0 L932.5 138.0 L935.8 138.2 L937.0 137.1 L938.9 135.2 L941.5 133.3 L942.4 130.9 L944.7 129.8 L946.5 128.6 L947.3 127.4 L948.5 126.5 L949.8 124.0 L951.8 120.8 L953.6 119.1 L955.4 117.6 L956.5 115.4 L958.4 113.7 L959.5 112.8 L961.8 112.0 L963.8 110.7 L965.5 109.6 L966.4 108.8 L967.2 106.7 L969.7 104.5 L969.9 101.8 L970.9 99.5 L972.1 98.0 L973.0 97.0 L974.3 95.3 L975.4 93.4 L975.9 91.7 L976.7 89.6 L978.1 88.0 L978.1 85.7 L980.8 83.4 L981.2 81.9 L982.1 79.8 L983.7 78.0 L984.9 77.6 L985.6 76.5 L986.9 73.9 L988.2 72.0 L990.1 69.4 L991.7 66.4 L993.5 66.6 L996.1 66.9 L998.4 65.7 L1000.3 64.7 L1003.4 65.0 L1004.7 65.2 L1006.9 64.4 L1010.3 63.6 L1011.6 64.2 L1013.1 63.3 L1015.3 60.7 L1017.2 59.5 L1019.5 59.0 L1021.4 58.1 L1023.0 57.7 L1025.1 56.8 L1028.1 55.0 L1030.6 52.7 L1032.1 51.6 L1033.6 51.4 L1035.5 51.0 L1038.6 51.5 L1040.7 51.2 L1043.0 52.6 L1044.5 51.3 L1046.3 50.3 L1048.8 47.9 L1050.4 46.0 L1052.2 45.3 L1053.8 45.7 L1056.6 45.7 L1058.8 45.6 L1060.7 46.5 L1063.7 47.1 L1064.9 46.4 L1067.8 45.4 L1069.5 44.8 L1071.5 45.3 L1074.0 46.3 L1075.3 46.4 L1078.4 45.0 L1079.8 44.6 L1081.9 44.5 L1084.4 43.8 L1086.4 44.2 L1088.1 45.7 L1090.8 47.2 L1091.8 48.8 L1093.9 51.1 L1095.2 54.5 L1097.2 55.7 L1099.2 54.9 L1100.9 54.0 L1102.8 54.7 L1105.6 57.4 L1107.5 59.1 L1109.1 59.6 L1111.4 60.4 L1113.4 59.8 L1116.8 58.2 L1116.9 59.8 L1118.4 63.1 L1119.2 66.4 L1120.3 69.0 L1120.9 70.8 L1120.8 72.2 L1122.4 74.1 L1123.4 77.1 L1123.9 79.4 L1126.5 80.0 L1127.6 81.0 L1129.2 82.8 L1130.0 84.7 L1133.0 86.5 L1135.1 87.5 L1136.2 88.8 L1138.4 90.0 L1141.4 92.4 L1141.5 95.2 L1143.2 95.8 L1144.0 98.3 L1145.7 102.2 L1146.0 103.7 L1147.1 104.8 L1147.6 106.6 L1147.8 107.7 L1149.3 108.1 L1151.6 109.1 L1152.7 111.9 L1154.5 115.1 L1156.1 117.8 L1158.1 118.8 L1159.4 119.9 L1161.1 122.2 L1161.6 124.7 L1162.4 127.2 L1164.5 129.3 L1165.0 131.7 L1166.2 133.7 L1168.9 134.6 L1170.3 136.2 L1173.2 135.9 L1174.7 135.8 L1175.1 138.5 L1177.1 140.6 L1178.3 142.5 L1179.5 145.2 L1180.6 147.5 L1182.8 148.5 L1183.6 149.3 L1185.5 149.9 L1187.1 151.1 L1189.4 152.6 L1191.7 154.2 L1194.2 155.7 L1195.1 156.8 L1198.3 158.9 L1200.4 160.8 L1202.2 160.8 L1204.3 161.4 L1206.0 162.4 L1208.3 162.7 L1210.9 163.6 L1212.8 165.3 L1215.2 165.5 L1217.1 165.0 L1218.7 165.1 L1221.4 166.2 L1223.8 168.4 L1225.9 169.9 L1227.5 170.2 L1228.8 170.0 L1231.8 170.3 L1232.9 170.4 L1236.0 172.1 L1236.7 175.1 L1238.2 176.7 L1240.8 176.9 L1242.2 178.4 L1243.8 180.3 L1246.0 181.8 L1247.0 184.4 L1249.0 185.8 L1250.6 185.6 L1252.3 187.5 L1254.0 190.5 L1255.7 192.3 L1256.4 193.2 L1258.7 194.3 L1260.3 196.2 L1261.3 198.6 L1263.4 200.4 L1264.3 201.4 L1265.4 202.7 L1267.5 204.7 L1268.2 206.3 L1269.5 207.5 L1270.9 208.9 L1272.1 211.6 L1273.7 214.1 L1276.0 213.8 L1277.5 213.5 L1280.0 212.9 L1281.9 212.4 L1284.0 212.9 L1285.8 213.2 L1288.5 215.7 L1289.7 217.8 L1291.3 217.5 L1292.8 217.9 L1294.3 220.2 L1296.9 220.8 L1298.7 220.3 L1300.4 219.1 L1303.4 218.5 L1305.4 219.9 L1306.2 221.5 L1308.6 222.9 L1309.7 224.1" fill="none" stroke="#CC9900" stroke-width="5.2" stroke-linejoin="round" stroke-linecap="butt"/>
<path d="M794.3 86.8 L796.1 88.7 L798.2 89.8 L800.6 90.9 L802.9 92.2 L803.5 94.0 L806.4 96.0 L807.6 97.9 L808.9 99.1 L810.1 99.4 L811.6 100.5 L814.2 102.0 L815.0 102.9 L817.2 103.7 L819.3 104.4 L821.5 104.7 L824.0 107.5 L825.2 110.8 L825.7 111.0 L827.2 111.2 L829.6 113.4 L830.7 114.7 L831.7 115.1 L833.7 116.5 L836.1 118.7 L837.4 120.5 L839.3 122.1 L842.5 123.6 L843.1 124.4 L844.4 125.1 L847.0 125.0 L848.5 125.8 L850.8 128.5 L853.0 131.4 L854.8 132.9 L857.5 133.2 L859.5 133.3 L861.5 133.9 L864.0 135.6 L866.2 137.1 L867.8 138.2 L870.5 140.1 L872.6 141.7 L874.0 142.0 L876.6 141.9 L878.0 142.7 L880.0 143.4 L882.6 144.0 L885.1 145.4 L887.7 146.3 L889.0 146.9 L891.5 147.3 L892.6 145.9 L895.4 145.6 L897.8 145.4 L899.2 144.5 L901.3 143.6 L903.1 142.5 L905.4 141.1 L906.0 140.1 L907.9 138.5 L910.3 136.8 L912.4 138.3 L914.4 140.5 L916.1 141.4 L918.5 138.5 L921.4 135.8 L922.5 134.5 L925.1 134.3 L927.3 134.4 L928.6 133.7 L930.9 133.2 L933.4 132.7 L933.7 130.2 L934.4 127.6 L934.7 124.9 L935.5 121.5 L936.1 119.0 L937.4 117.9 L937.4 116.2 L938.5 114.1 L939.9 112.5 L940.6 111.2 L941.5 108.7 L942.9 105.8 L943.0 104.8 L944.6 104.2 L945.9 102.4 L946.8 100.0 L947.8 97.3 L948.9 94.8 L949.6 93.2 L952.1 92.3 L953.1 91.3 L955.3 90.4 L956.3 88.5 L959.4 85.8 L960.4 83.8 L961.1 83.4 L963.0 83.0 L964.8 82.3 L967.0 81.3 L968.7 79.7 L970.6 76.9 L971.7 74.5 L971.4 73.6 L972.9 73.1 L973.4 72.1 L974.9 69.5 L976.7 66.4 L978.2 64.9 L979.5 63.3 L981.4 60.3 L981.8 58.2 L983.3 57.4 L985.3 55.7 L987.1 53.9 L988.3 52.2 L990.1 50.6 L992.1 49.8 L992.9 48.5 L994.7 47.2 L995.9 46.0 L998.7 44.6 L999.8 43.2 L1002.6 42.7 L1005.6 42.2 L1006.8 41.9 L1008.7 41.3 L1011.1 42.6 L1013.2 44.3 L1015.1 44.4 L1017.1 43.3 L1019.4 44.0 L1021.6 46.4 L1023.3 49.0 L1025.8 49.7 L1027.6 49.4 L1029.8 50.7 L1031.8 51.9 L1033.6 52.8 L1035.4 53.4 L1038.9 53.3 L1040.0 54.1 L1042.3 55.5 L1043.1 57.6 L1044.0 58.6 L1044.1 59.9 L1046.0 61.4 L1048.7 62.5 L1050.8 62.2 L1052.4 62.7 L1054.7 63.8 L1056.9 64.4 L1059.8 65.0 L1061.2 66.4 L1062.8 68.0 L1065.3 68.3 L1066.8 69.3 L1069.6 71.0 L1072.0 71.2 L1074.1 69.2 L1076.0 68.4 L1077.7 68.6 L1079.9 68.3 L1081.8 67.2 L1084.2 67.5 L1085.7 69.0 L1087.4 69.2 L1090.6 68.8 L1092.5 69.7 L1094.3 71.2 L1096.5 71.8 L1099.2 73.2 L1099.5 74.4 L1100.6 75.2 L1101.2 78.3 L1101.3 81.8 L1103.0 84.0 L1103.5 86.0 L1103.6 88.2 L1104.7 89.8 L1105.1 91.1 L1106.2 92.9 L1107.5 95.3 L1107.7 97.5 L1108.4 98.4 L1109.6 99.9 L1109.9 102.3 L1111.1 104.4 L1112.4 106.8 L1113.1 109.3 L1113.4 111.2 L1114.9 108.8 L1116.9 106.6 L1118.5 104.7 L1118.4 103.3 L1119.2 101.4 L1119.7 97.9 L1120.6 98.3 L1121.7 100.6 L1123.0 104.8 L1124.6 108.2 L1126.7 107.7 L1129.1 106.6 L1130.2 106.1 L1132.1 106.2 L1134.5 107.7 L1135.4 108.6 L1137.4 109.6 L1139.8 111.5 L1141.4 113.7 L1142.8 116.5 L1143.5 117.3 L1145.6 117.5 L1146.8 119.4 L1147.7 120.8 L1149.7 122.3 L1151.5 124.1 L1152.0 126.8 L1154.4 130.6 L1155.2 131.6 L1156.3 132.0 L1157.0 133.4 L1159.1 134.7 L1160.7 137.5 L1162.1 139.9 L1164.4 141.7 L1164.8 139.7 L1164.8 137.3 L1165.0 134.5 L1165.3 131.7 L1165.3 129.7 L1165.8 127.7 L1167.0 125.5 L1168.1 125.0 L1170.8 124.3 L1172.9 123.0 L1174.7 121.8 L1177.1 120.4 L1178.8 119.3 L1180.2 121.3 L1181.6 123.1 L1183.5 125.5 L1183.6 127.7 L1183.3 128.3 L1184.9 129.1 L1185.4 132.0 L1186.1 135.6 L1186.7 138.3 L1187.4 139.7 L1189.7 140.8 L1190.9 143.1 L1192.5 144.5 L1193.4 145.6 L1195.5 147.0 L1197.1 148.3 L1198.8 149.3 L1200.6 150.0 L1202.0 150.8 L1203.7 153.2 L1206.0 154.8 L1208.6 156.8 L1210.3 158.8 L1212.8 158.9 L1215.3 159.6 L1216.4 161.2 L1218.8 161.2 L1221.1 160.5 L1222.4 160.4 L1225.2 161.5 L1227.1 163.8 L1230.0 164.7 L1230.8 165.1 L1232.7 166.5 L1234.3 168.4 L1235.1 169.8 L1236.8 168.0 L1239.2 166.7 L1240.2 165.0 L1242.6 163.0 L1243.4 161.9 L1245.0 161.1 L1246.9 159.8 L1249.3 158.5 L1250.5 157.4 L1253.1 156.4 L1253.2 156.0 L1255.2 154.9 L1257.3 152.5 L1258.9 150.7 L1260.8 149.8 L1263.3 148.3 L1264.8 147.4 L1267.6 146.8 L1268.9 145.1 L1270.2 143.9 L1271.9 142.5 L1273.4 141.5 L1274.7 140.4 L1274.9 138.4 L1276.6 136.8 L1277.5 135.0 L1278.5 133.0 L1280.4 132.3 L1281.1 131.3 L1281.9 129.0 L1283.0 126.6 L1284.9 124.7 L1285.2 123.3 L1285.9 122.4 L1288.4 121.2 L1290.5 119.4 L1292.4 117.8 L1295.4 116.3 L1296.0 115.3 L1297.7 114.5 L1299.5 113.0 L1301.1 111.9 L1303.0 113.1 L1305.6 113.8 L1308.1 113.1 L1310.3 111.3" fill="none" stroke="#00CCCC" stroke-width="5.2" stroke-linejoin="round" stroke-linecap="butt"/>
<path d="M910.6 22.1 L911.0 25.4 L911.9 28.2 L913.4 29.7 L913.8 30.7 L915.0 31.8 L916.0 33.8 L917.6 36.8 L918.5 39.6 L920.2 41.5 L921.6 42.9 L922.2 44.3 L923.2 46.4 L924.8 49.6 L925.7 51.9 L927.4 51.6 L929.2 53.6 L930.0 59.0 L931.7 62.3 L932.0 63.4 L932.5 64.6 L934.3 66.0 L935.3 67.5 L936.5 69.7 L936.7 72.6 L939.3 72.2 L941.9 71.3 L943.7 72.0 L946.2 72.8 L947.5 73.5 L950.1 74.9 L952.0 73.3 L954.7 70.7 L955.9 71.9 L958.8 73.7 L960.5 73.7 L962.6 72.0 L964.4 70.9 L966.3 72.1 L968.3 73.4 L971.1 74.1 L972.7 72.2 L975.6 70.8 L977.5 70.7 L979.6 69.8 L981.4 68.3 L982.5 66.4 L984.5 62.8 L985.0 59.8 L987.6 59.8 L990.3 60.3 L992.0 60.5 L994.8 60.7 L996.3 60.9 L998.0 60.2 L1001.0 58.6 L1002.6 59.4 L1004.6 61.7 L1006.7 62.6 L1008.5 62.5 L1010.8 61.3 L1013.4 59.5 L1014.9 59.5 L1017.2 60.2 L1019.1 59.2 L1021.5 59.0 L1023.8 60.4 L1025.9 59.9 L1027.7 59.6 L1029.6 60.4 L1032.1 60.2 L1034.5 59.9 L1036.5 58.5 L1039.4 58.2 L1040.3 59.0 L1042.0 57.9 L1044.1 55.3 L1047.1 55.2 L1049.3 54.4 L1052.6 54.3 L1054.1 54.6 L1056.7 55.9 L1059.2 56.2 L1061.4 54.8 L1063.4 54.0 L1065.7 54.1 L1067.1 54.0 L1070.1 53.6 L1072.3 53.1 L1073.0 52.4 L1075.3 51.9 L1078.2 51.3 L1080.3 50.9 L1082.6 50.3 L1084.3 51.8 L1085.9 53.6 L1088.1 54.8 L1091.1 55.9 L1092.2 56.4 L1093.2 56.7 L1095.5 58.1 L1097.5 60.1 L1098.9 62.1 L1101.3 62.7 L1103.3 62.6 L1105.2 62.8 L1106.9 63.3 L1109.5 63.7 L1111.8 64.2 L1113.4 64.0 L1116.2 62.8 L1118.6 61.3 L1120.3 61.2 L1122.2 61.3 L1124.2 60.3 L1125.9 58.0 L1129.0 56.7 L1130.3 56.8 L1132.3 55.8 L1134.7 53.0 L1135.8 51.3 L1136.6 49.7 L1137.2 47.5 L1137.5 45.3 L1137.9 42.7 L1137.1 39.3 L1137.7 37.4 L1137.8 36.6 L1138.7 35.1 L1138.6 33.7 L1139.8 31.6 L1141.1 28.2 L1141.2 25.3 L1142.8 23.2" fill="none" stroke="#7A4C4C" stroke-width="5.2" stroke-linejoin="round" stroke-linecap="butt"/>
<path d="M945.7 25.4 L946.9 27.1 L948.2 28.2 L948.1 29.3 L950.0 30.6 L950.4 32.2 L952.5 34.0 L953.5 36.0 L955.5 38.2 L956.6 39.9 L959.0 40.8 L960.4 41.3 L961.5 42.1 L962.8 43.9 L965.3 46.0 L967.0 46.6 L968.2 48.6 L969.9 51.1 L971.3 51.8 L973.5 52.8 L975.2 55.6 L976.0 58.6 L977.5 59.4 L979.6 59.5 L980.9 61.3 L983.6 64.5 L985.8 66.6 L987.8 66.1 L990.5 66.5 L991.7 67.1 L994.0 67.0 L995.5 67.4 L997.0 68.4 L999.0 70.1 L1000.5 71.8 L1002.3 71.0 L1003.6 70.8 L1005.1 69.9 L1007.7 68.1 L1009.3 66.1 L1011.1 64.2 L1012.8 63.1 L1015.5 63.1 L1016.7 62.5 L1019.2 61.1 L1021.5 59.8 L1023.4 59.6 L1024.9 60.6 L1028.5 62.1 L1029.3 61.8 L1032.5 60.9 L1035.0 60.8 L1036.5 62.2 L1038.5 64.2 L1039.9 64.3 L1042.4 63.7 L1043.4 62.1 L1046.2 62.8 L1048.5 63.0 L1049.8 62.9 L1052.4 62.3 L1054.4 61.6 L1057.4 62.6 L1059.0 62.4 L1061.3 60.8 L1063.1 60.5 L1065.3 61.6 L1067.4 59.7 L1069.0 58.2 L1071.9 59.4 L1073.6 61.0 L1075.3 62.6 L1077.8 62.9 L1080.3 63.0 L1082.4 63.9 L1084.6 62.5 L1086.5 61.5 L1088.4 60.6 L1090.4 59.5 L1091.8 59.2 L1094.3 58.5 L1095.6 57.1 L1097.6 55.3 L1098.7 54.2 L1101.0 54.9 L1103.3 54.1 L1105.0 51.2 L1107.3 49.2 L1109.4 49.5 L1111.7 50.5 L1113.1 52.1 L1115.3 52.7 L1117.3 50.8 L1119.9 49.1 L1121.8 48.6 L1125.3 48.7 L1126.1 48.1 L1129.2 47.4 L1131.0 45.9 L1132.6 43.7 L1135.0 43.1 L1136.4 42.8 L1138.3 40.3 L1139.8 37.4 L1142.2 35.6 L1142.3 35.0 L1143.9 33.3 L1145.6 30.8 L1147.2 30.0 L1147.7 29.4 L1150.4 27.4 L1151.6 24.3" fill="none" stroke="#888800" stroke-width="5.2" stroke-linejoin="round" stroke-linecap="butt"/>
<path d="M1016.9 22.7 L1018.8 23.8 L1020.3 25.8 L1021.6 27.3 L1022.3 29.2 L1024.0 32.5 L1025.9 34.4 L1026.2 35.3 L1028.2 37.0 L1029.2 38.4 L1031.0 39.8 L1032.1 41.7 L1033.8 43.5 L1035.1 44.5 L1036.0 45.8 L1037.5 47.8 L1038.6 49.2 L1040.4 50.5 L1041.7 52.0 L1043.1 52.9 L1045.1 53.4 L1047.6 55.1 L1049.0 56.1 L1050.9 54.6 L1052.6 54.7 L1054.2 53.9 L1056.9 51.6 L1059.5 49.6 L1061.4 48.5 L1064.7 48.4 L1067.8 48.0 L1069.1 45.8 L1070.7 43.2 L1072.6 40.8 L1074.3 40.3 L1076.1 39.8 L1076.7 36.8 L1077.9 33.8 L1078.4 32.8 L1079.5 31.9 L1081.0 29.9 L1082.0 28.0 L1083.3 26.1 L1084.8 24.1" fill="none" stroke="#FF6600" stroke-width="5.2" stroke-linejoin="round" stroke-linecap="butt"/>
<path d="M1025.4 25.3 L1026.9 26.1 L1028.9 27.1 L1030.4 28.4 L1030.9 31.4 L1032.4 35.2 L1034.2 36.6 L1035.8 36.6 L1036.5 37.8 L1036.7 39.1 L1038.7 40.8 L1039.3 44.7 L1040.3 47.3 L1041.6 48.8 L1042.1 50.4 L1043.8 51.6 L1044.7 53.6 L1047.8 56.1 L1049.1 57.7 L1050.4 57.7 L1052.1 58.6 L1053.6 61.0 L1055.0 62.2 L1056.5 60.5 L1058.3 60.1 L1059.1 59.1 L1060.7 57.0 L1062.5 55.3 L1064.5 54.2 L1065.5 52.8 L1066.5 50.7 L1067.4 49.1 L1067.9 47.1 L1069.0 45.4 L1069.8 44.0 L1070.5 41.6 L1071.6 39.1 L1072.7 36.6 L1073.2 34.6 L1074.0 32.5 L1075.3 29.9 L1076.1 28.1 L1077.1 27.2 L1078.3 25.8" fill="none" stroke="#6699CC" stroke-width="5.2" stroke-linejoin="round" stroke-linecap="butt"/>
<path d="M1030.0 25.6 L1031.0 27.0 L1031.5 27.4 L1032.6 28.8 L1033.2 32.0 L1035.2 34.8 L1035.1 35.6 L1036.2 35.8 L1036.6 37.6 L1037.8 40.4 L1039.1 42.8 L1040.7 44.1 L1041.8 45.3 L1042.6 47.2 L1043.8 49.4 L1046.2 51.4 L1046.6 53.9 L1048.5 56.8 L1050.9 59.2 L1051.4 57.1 L1052.8 54.8 L1054.1 52.6 L1054.8 51.3 L1055.9 49.4 L1056.8 47.1 L1057.4 45.4 L1057.3 43.8 L1058.9 41.6 L1060.2 40.2 L1060.4 39.0 L1061.7 37.4 L1062.9 34.6 L1064.3 31.2 L1064.2 29.2 L1065.4 27.8 L1066.6 26.5 L1067.6 24.7" fill="none" stroke="#330066" stroke-width="5.2" stroke-linejoin="round" stroke-linecap="butt"/>
<path d="M1038.8 24.8 L1039.5 27.8 L1039.7 31.4 L1040.2 32.5 L1041.7 33.4 L1041.9 35.2 L1043.2 36.7 L1043.1 38.9 L1044.1 41.7 L1044.8 44.2 L1045.2 46.6 L1047.3 47.8 L1047.5 48.6 L1047.2 50.7 L1048.3 53.0 L1047.9 55.0 L1049.7 58.0 L1050.2 61.1 L1050.3 63.3 L1050.9 64.6 L1052.1 66.5 L1053.2 69.3 L1053.9 70.9 L1055.7 71.3 L1057.9 72.6 L1060.8 71.1 L1062.1 69.0 L1062.5 66.3 L1063.3 63.2 L1063.3 60.8 L1064.5 60.3 L1065.2 59.4 L1065.8 56.8 L1066.7 55.2 L1067.3 53.1 L1067.3 49.9 L1068.8 48.2 L1069.3 46.1 L1069.3 42.4 L1070.3 39.9 L1070.3 38.4 L1070.8 36.6 L1071.9 34.6 L1073.3 31.2 L1073.3 27.6 L1073.4 25.3 L1074.8 22.8" fill="none" stroke="#66B400" stroke-width="5.2" stroke-linejoin="round" stroke-linecap="butt"/>
</g>
<g clip-path="url(#cc)">
<path d="M114.0 1119.4 L114.4 1118.3 L114.4 1117.1 L114.5 1114.7 L114.7 1112.2 L115.9 1109.7 L115.6 1107.1 L115.4 1105.8 L115.6 1104.2 L116.1 1102.5 L117.9 1101.3 L117.7 1098.0 L118.2 1095.0 L118.1 1093.5 L119.3 1092.4 L121.9 1091.7 L125.2 1089.5 L125.7 1087.6 L125.4 1087.2 L125.5 1084.9 L126.0 1082.2 L127.4 1081.6 L129.0 1081.0 L131.3 1078.6 L132.5 1075.5 L133.4 1072.5 L133.4 1070.6 L134.6 1068.9 L136.7 1068.5 L138.1 1069.0 L140.5 1070.8 L140.8 1069.0 L141.9 1066.8 L141.5 1065.6 L142.0 1063.2 L142.0 1060.3 L142.9 1058.6 L142.9 1056.4 L143.5 1054.3 L143.6 1052.5 L144.8 1049.9 L146.2 1048.0 L146.4 1046.5 L148.0 1044.9 L148.4 1043.3 L150.0 1040.3 L150.0 1036.8 L151.7 1035.3 L152.7 1034.4 L153.1 1032.7 L153.7 1031.5 L154.4 1029.6 L155.0 1026.6 L157.1 1023.8 L159.6 1021.7 L161.3 1021.8 L163.9 1021.9 L164.0 1019.9 L164.1 1016.8 L164.7 1013.9 L166.2 1011.6 L167.1 1010.2 L168.6 1009.4 L169.8 1009.3 L171.9 1008.8 L173.4 1007.5 L173.5 1005.2 L174.9 1003.5 L175.2 1000.8 L175.8 997.6 L177.4 995.8 L178.5 994.7 L179.6 993.0 L181.1 991.5 L182.4 990.1 L183.4 987.9 L184.2 985.8 L184.8 983.4 L185.6 981.2 L186.6 980.5 L187.1 979.4 L187.7 976.6 L188.7 974.5 L190.5 973.7 L190.8 971.8 L191.7 969.7 L191.9 967.8 L192.8 965.1 L192.2 962.9 L192.9 961.3 L193.3 958.4 L193.0 955.8 L194.4 954.9 L194.8 954.0 L196.6 952.5 L199.6 950.2 L200.2 946.8 L200.7 945.6 L201.1 945.0 L202.4 944.4 L204.3 945.3 L204.2 942.3 L205.9 938.9 L207.0 936.9 L208.8 939.3 L211.6 940.5 L212.0 939.1 L213.6 937.8 L214.3 935.2 L215.5 932.4 L215.9 930.3 L217.4 929.4 L217.9 927.8 L219.8 926.1 L221.1 923.5 L221.4 919.6 L221.6 916.9 L223.1 915.3 L223.9 914.5 L224.0 913.4 L224.6 911.0 L226.1 908.2 L226.3 905.6 L227.5 903.9 L228.0 902.1 L230.0 902.8 L232.8 904.3 L233.9 905.7 L234.2 903.5 L234.9 900.9 L235.2 898.3 L235.9 896.0 L235.8 894.4 L237.2 892.4 L237.0 889.9 L237.4 887.5 L237.9 884.9 L238.7 882.5 L240.5 882.9 L242.4 883.0 L244.7 883.4 L246.6 882.8 L249.2 882.9 L251.1 883.5 L253.7 884.3 L254.5 884.4 L257.8 884.1 L257.9 881.8 L258.1 881.1 L259.1 879.5 L260.1 876.6 L260.0 874.2 L260.4 872.4 L261.9 870.7 L261.5 869.4 L263.0 867.5 L263.3 865.3 L263.8 863.3 L265.1 860.7 L265.5 858.7 L266.0 856.4 L267.6 853.2 L268.1 851.2 L268.5 849.6 L269.5 847.8 L270.4 846.0 L271.0 843.7 L272.3 842.1 L273.3 842.0 L274.2 840.5 L275.2 837.7 L276.5 835.7 L277.1 833.6 L277.6 831.2 L278.5 828.9 L280.0 826.6 L280.4 825.2 L280.9 823.5 L281.8 820.7 L282.3 818.3 L282.8 816.0 L283.9 813.2 L285.3 811.0 L286.4 810.4 L288.9 809.0 L290.6 807.0 L292.3 805.5 L293.2 804.4 L294.7 802.5 L296.0 800.6 L297.3 799.1 L299.2 798.2 L300.8 797.4 L302.5 795.7 L302.7 793.7 L305.7 792.5 L308.4 790.2 L310.5 787.7 L310.7 786.0 L311.8 785.6 L313.6 785.2 L314.4 782.2 L314.9 778.7 L316.2 777.0 L317.6 775.6 L319.7 774.5 L321.8 774.4 L322.4 772.9 L324.2 770.9 L326.3 770.1 L327.8 769.6 L329.2 768.9 L331.3 768.2 L333.0 766.6 L335.1 764.7 L337.7 762.9 L339.5 761.0 L341.4 760.3 L343.7 761.2 L345.8 760.6 L348.0 759.6 L349.9 759.0 L352.9 759.2 L354.5 759.4 L356.0 759.1 L358.5 759.1 L360.4 759.3 L361.0 761.1 L362.1 761.9 L363.3 763.4 L363.9 766.4 L365.2 768.5 L366.5 770.2 L367.7 772.7 L369.3 774.6 L371.1 775.7 L372.1 777.3 L373.7 775.9 L375.1 773.5 L377.0 770.1 L378.3 767.5 L379.9 765.6 L380.9 763.7 L382.4 762.5 L384.3 761.6 L385.7 761.3 L387.6 761.3 L389.1 759.3 L390.0 756.6 L391.4 754.6 L393.7 755.4 L395.6 755.4 L398.0 756.7 L399.6 756.9 L402.1 756.8 L404.6 756.1 L405.2 758.0 L405.2 760.0 L405.6 762.3 L406.1 765.3 L408.1 765.8 L408.6 766.4 L411.1 768.4 L412.6 770.0 L413.0 773.9 L413.9 776.8 L414.2 777.3 L416.3 779.1 L415.9 780.8 L416.7 782.6 L417.2 785.1 L416.7 786.6 L419.4 788.0 L421.0 786.8 L422.2 785.7 L424.5 784.3 L425.8 783.5 L427.1 783.7 L429.4 784.8 L432.7 784.9 L433.7 786.1 L435.1 788.1 L435.4 789.9 L436.7 792.0 L436.4 794.4 L437.5 796.3 L438.3 797.5 L439.2 799.3 L440.3 801.3 L441.0 803.8 L441.1 806.9 L442.1 807.7 L443.7 808.1 L444.3 811.0 L444.8 813.3 L445.7 815.1 L447.0 817.7 L447.7 819.9 L448.5 821.7 L449.6 823.5 L451.8 825.9 L453.4 828.1 L455.3 829.7 L456.2 830.5 L456.9 831.8 L458.3 834.3 L460.2 836.0 L460.9 837.2 L462.0 839.5 L462.5 841.3 L463.3 842.9 L464.1 845.8 L464.3 848.6 L465.3 850.3 L467.0 848.9 L469.0 847.7 L469.8 846.2 L471.9 845.0 L473.6 844.3 L474.6 846.3 L475.1 848.2 L475.9 850.2 L475.6 852.1 L476.5 854.5 L477.5 856.8 L477.4 859.6 L478.3 862.9 L479.3 864.7 L479.7 865.4 L480.7 866.7 L480.8 868.5 L480.8 870.6 L481.4 873.0 L481.7 874.6 L482.6 876.4 L484.0 878.0 L485.4 880.2 L485.3 883.0 L486.0 884.6 L486.4 886.0 L487.4 888.6 L488.4 891.9 L489.1 894.0 L490.1 896.0 L490.4 898.1 L491.9 899.3 L492.8 901.7 L494.4 904.7 L495.7 906.6 L495.6 908.1 L496.2 909.9 L497.3 911.8 L498.3 914.2 L499.1 915.9 L498.8 917.4 L500.6 920.0 L500.6 921.9 L503.5 923.2 L505.7 924.8 L507.8 925.9 L509.8 927.4 L511.6 928.9 L513.2 930.6 L515.5 931.8 L516.9 932.6 L516.9 934.5 L517.6 937.1 L518.2 939.1 L519.0 941.4 L519.8 943.0 L521.5 943.3 L522.8 945.0 L524.1 947.5 L525.7 949.7 L526.7 950.3 L529.1 951.5 L531.0 952.8 L532.4 955.2 L533.7 957.8 L534.6 959.5 L536.3 960.5 L537.4 962.3 L538.3 965.6 L539.5 968.4 L540.5 969.3 L541.5 969.7 L542.8 971.3 L543.3 974.5 L545.4 972.5 L544.8 970.1 L545.1 968.2 L546.7 966.5 L547.1 969.2 L548.3 971.3 L550.0 973.4 L550.3 975.4 L551.7 976.0 L553.0 977.3 L553.5 979.6 L556.1 981.7 L556.5 984.7 L557.7 987.9 L558.2 990.4 L559.8 993.2 L560.7 994.6 L562.0 995.2 L562.0 996.9 L564.0 999.5 L564.4 997.6 L566.2 996.1 L567.1 995.1 L567.4 992.7 L569.6 993.0 L570.3 994.5 L570.9 997.0 L571.9 999.3 L572.3 1001.3 L573.2 1003.1 L574.0 1005.2 L574.4 1006.9 L574.0 1008.5 L574.0 1011.5 L575.0 1013.8 L575.8 1015.3 L575.8 1018.0 L577.2 1020.1 L578.8 1021.4 L580.6 1022.8 L582.3 1025.5 L583.4 1028.8 L584.8 1030.3 L585.3 1030.5 L587.3 1031.1 L588.2 1032.8 L591.5 1030.4 L591.5 1032.8 L591.2 1035.3 L591.6 1036.2 L592.4 1037.4 L592.0 1040.2 L593.2 1043.6 L593.1 1045.9 L593.4 1046.8 L593.4 1048.8 L593.9 1051.5 L593.7 1054.0 L594.0 1056.6 L593.8 1058.8 L596.0 1061.7 L598.2 1063.5 L599.0 1063.9 L600.3 1065.6 L601.1 1068.0 L602.0 1069.7 L602.2 1071.9 L604.0 1075.5 L605.2 1078.2 L606.8 1078.2 L608.1 1078.6 L609.6 1080.9 L611.1 1083.0 L612.7 1084.6 L613.0 1086.2 L613.0 1088.6 L613.0 1091.4 L614.5 1093.2 L614.9 1094.7 L614.8 1096.0 L616.1 1097.8 L617.6 1099.7 L619.2 1101.3 L621.2 1103.7 L621.5 1106.5 L622.0 1107.7 L622.4 1107.9 L623.0 1109.5 L623.9 1109.2 L625.4 1107.8 L627.4 1104.3 L629.1 1106.9 L630.3 1111.1" fill="none" stroke="#000000" stroke-width="5.2" stroke-linejoin="round" stroke-linecap="butt"/>
<path d="M113.8 981.3 L115.5 978.5 L118.3 976.2 L119.2 975.0 L121.2 973.3 L121.2 971.0 L121.8 969.5 L122.6 968.2 L122.3 966.3 L123.9 963.7 L126.9 960.5 L127.6 957.1 L127.9 954.4 L129.4 951.4 L130.6 952.7 L130.3 952.5 L130.9 951.0 L131.7 948.7 L131.6 946.7 L131.8 944.3 L133.0 942.9 L135.2 943.8 L136.8 944.7 L138.1 947.0 L139.1 948.6 L141.9 949.0 L142.5 947.3 L143.4 946.0 L143.6 945.1 L144.0 942.3 L144.8 939.9 L144.9 939.0 L145.5 936.6 L147.5 934.1 L149.1 933.8 L152.5 933.2 L154.6 933.2 L156.1 933.1 L158.2 934.6 L159.8 933.4 L159.7 930.3 L159.8 927.1 L160.0 924.9 L161.7 923.3 L162.0 922.0 L161.7 919.7 L162.9 917.3 L163.8 915.7 L165.6 913.0 L167.8 912.0 L168.8 912.2 L170.7 912.1 L172.5 912.0 L175.4 911.5 L176.5 909.2 L177.5 907.5 L180.2 904.9 L180.6 902.9 L182.0 901.6 L183.8 900.4 L185.1 903.3 L186.8 905.0 L188.5 904.7 L189.8 905.9 L190.6 905.5 L191.9 904.5 L193.5 902.3 L194.2 899.9 L195.8 898.2 L196.3 895.8 L196.4 892.7 L197.4 890.6 L197.8 888.3 L198.2 886.4 L199.9 885.2 L201.9 884.7 L203.4 885.1 L204.8 883.8 L206.0 881.0 L207.5 878.3 L208.8 876.5 L209.9 875.8 L210.7 873.8 L212.5 870.2 L213.6 867.9 L214.7 867.1 L214.1 866.3 L216.5 864.6 L217.4 861.7 L217.9 860.4 L221.2 860.1 L221.6 859.4 L223.9 858.8 L225.8 857.2 L227.1 853.2 L227.4 850.4 L228.2 849.7 L228.6 848.6 L230.2 846.1 L231.4 843.3 L231.5 842.5 L233.7 845.6 L233.0 847.7 L235.0 850.2 L236.1 852.5 L237.1 851.0 L238.0 850.1 L239.1 848.6 L239.2 846.4 L239.6 843.7 L240.5 841.5 L241.6 839.8 L242.2 837.5 L244.5 838.4 L246.7 840.5 L248.9 842.3 L250.3 839.4 L251.1 837.2 L251.5 836.0 L252.8 833.6 L253.9 831.2 L255.0 829.6 L256.9 832.0 L258.3 834.7 L259.5 837.1 L260.7 839.8 L260.4 843.0 L261.5 845.0 L262.7 845.2 L262.9 845.8 L263.4 848.2 L264.2 847.4 L265.8 847.3 L266.6 846.5 L268.0 844.2 L268.9 842.0 L269.1 840.1 L269.7 838.0 L270.7 835.9 L271.9 834.3 L273.8 831.7 L274.1 829.3 L274.9 828.8 L276.2 828.1 L277.7 828.3 L278.5 829.2 L279.7 832.3 L281.1 834.5 L283.1 835.6 L283.4 833.2 L284.5 831.9 L285.3 830.2 L285.2 827.2 L286.9 825.2 L286.7 822.8 L287.5 820.0 L287.3 818.4 L288.8 816.5 L288.9 814.2 L288.9 812.3 L290.2 810.0 L289.8 808.6 L291.1 806.9 L290.9 803.8 L294.0 801.8 L294.7 799.7 L297.5 798.4 L298.9 798.5 L300.5 798.0 L302.3 797.1 L304.0 795.9 L305.3 793.6 L307.5 791.8 L309.5 790.7 L310.8 788.8 L311.7 786.3 L313.6 784.2 L313.0 782.7 L315.1 781.2 L315.1 779.4 L315.6 776.2 L316.8 773.5 L317.5 771.7 L318.8 768.9 L320.3 766.7 L321.7 765.4 L324.0 764.6 L325.2 764.3 L326.7 764.0 L328.4 762.7 L330.6 761.9 L333.2 760.4 L335.0 758.3 L337.6 757.9 L338.8 757.3 L341.5 756.5 L343.7 756.0 L345.7 754.5 L347.9 755.0 L348.8 756.3 L351.5 756.6 L353.8 756.3 L355.6 758.0 L357.5 760.7 L359.4 763.1 L359.7 765.8 L361.5 767.9 L363.5 768.1 L364.5 768.1 L366.8 769.9 L367.8 772.5 L369.5 773.9 L371.3 775.3 L373.3 775.4 L374.4 775.0 L375.7 777.7 L378.2 780.4 L379.6 781.5 L380.7 782.7 L382.5 783.8 L385.2 785.0 L387.1 786.7 L388.3 788.4 L390.0 790.8 L391.4 793.4 L392.9 794.0 L393.7 794.7 L395.4 792.5 L397.4 790.1 L399.0 789.5 L401.5 788.5 L402.2 785.7 L404.3 783.4 L405.8 781.9 L407.8 781.3 L409.5 780.5 L411.2 779.0 L413.7 776.7 L415.0 774.3 L416.0 772.6 L417.1 771.7 L419.1 769.7 L420.9 770.6 L423.1 772.6 L424.8 773.4 L427.5 772.4 L429.6 773.5 L431.8 772.6 L433.7 773.0 L435.8 775.0 L437.4 776.3 L439.9 777.5 L441.1 779.6 L443.3 781.2 L444.1 782.7 L446.1 781.9 L448.8 780.9 L450.3 781.3 L452.8 782.0 L454.2 783.1 L455.9 783.5 L456.8 785.1 L459.5 787.4 L461.0 788.6 L462.6 789.2 L465.7 790.0 L466.5 791.0 L468.3 793.6 L470.3 794.9 L470.8 796.2 L471.3 798.5 L472.9 800.4 L474.0 801.3 L473.3 802.7 L475.5 805.3 L476.4 807.5 L477.8 809.7 L478.2 812.5 L478.5 814.4 L479.8 816.1 L482.0 817.9 L482.5 818.8 L484.5 820.2 L485.4 822.0 L486.0 823.0 L487.6 824.9 L488.5 827.7 L489.6 828.7 L490.6 829.0 L491.2 830.3 L493.0 832.8 L494.7 835.7 L496.7 837.5 L497.3 839.0 L497.7 840.8 L498.4 843.2 L498.8 845.7 L498.9 847.3 L500.6 849.4 L500.6 851.5 L500.9 853.2 L501.1 855.6 L503.1 858.1 L503.5 859.2 L504.5 860.8 L504.9 863.9 L506.0 866.4 L506.3 867.7 L507.3 869.2 L509.5 871.1 L511.3 872.9 L512.1 875.4 L513.1 877.5 L514.5 878.1 L515.4 880.3 L515.6 882.9 L516.4 884.3 L518.5 886.5 L518.4 889.0 L518.9 889.8 L520.1 890.4 L520.6 892.9 L521.8 895.4 L523.5 896.7 L525.4 898.2 L526.7 900.1 L528.5 901.6 L531.2 903.4 L532.0 905.0 L533.0 905.6 L535.0 907.3 L535.6 910.6 L536.2 912.4 L537.3 912.6 L537.7 914.0 L539.7 916.8 L540.8 917.6 L543.5 917.9 L545.1 917.6 L547.1 916.2 L548.8 914.8 L551.4 913.5 L553.5 913.1 L555.4 913.5 L557.2 913.2 L558.9 911.6 L560.3 911.2 L563.1 909.6 L564.0 906.5 L565.9 906.2 L568.7 906.8 L570.5 907.4 L572.1 908.5 L573.7 909.0 L574.6 911.2 L575.3 914.4 L577.6 916.6 L578.9 917.9 L579.4 919.6 L579.9 921.5 L581.2 924.0 L581.7 927.2 L583.0 929.3 L582.5 930.3 L584.7 931.7 L587.4 934.0 L587.9 936.4 L587.9 938.9 L588.9 942.2 L588.9 944.7 L589.7 945.2 L591.4 946.5 L591.8 948.9 L592.0 951.3 L591.6 954.3 L592.5 956.9 L592.1 957.2 L594.7 958.4 L596.0 961.7 L596.3 964.7 L597.9 965.7 L598.0 967.0 L600.3 970.4 L600.4 973.8 L602.4 975.9 L604.9 977.7 L606.2 975.3 L607.0 972.9 L609.3 971.5 L610.5 973.8 L610.7 974.8 L612.2 976.8 L613.6 979.2 L615.0 980.3 L615.7 981.8 L617.0 984.8 L617.3 987.7 L618.7 989.7 L620.8 990.1 L623.9 990.8 L625.8 988.0 L626.5 986.6 L630.4 987.3" fill="none" stroke="#FF0000" stroke-width="5.2" stroke-linejoin="round" stroke-linecap="butt"/>
<path d="M114.1 865.5 L116.3 864.1 L117.8 863.4 L120.5 863.0 L122.4 861.1 L124.8 860.5 L127.1 860.9 L129.0 860.3 L130.9 858.7 L133.2 857.5 L134.8 857.1 L137.6 855.4 L140.0 853.9 L141.8 853.1 L144.2 851.9 L145.6 851.2 L147.2 851.0 L149.8 849.5 L152.1 847.2 L152.6 844.9 L155.2 843.9 L156.1 842.8 L158.3 841.3 L158.9 840.0 L160.4 838.3 L162.1 836.4 L162.7 834.8 L164.8 833.4 L166.4 832.1 L168.4 830.6 L169.9 829.2 L171.5 828.0 L173.1 827.1 L176.0 827.4 L177.5 826.8 L179.5 825.1 L180.7 822.6 L183.8 819.3 L184.9 817.3 L186.7 816.1 L188.6 814.9 L190.1 813.5 L192.2 812.7 L193.4 811.1 L195.2 809.5 L196.8 809.4 L198.7 808.3 L199.7 805.4 L201.0 803.0 L202.1 801.4 L203.3 799.8 L204.7 798.8 L205.4 797.5 L206.5 795.4 L207.9 793.2 L209.0 791.1 L210.5 789.7 L210.5 788.5 L213.7 788.4 L215.0 789.0 L217.0 789.9 L219.6 788.5 L221.7 786.3 L224.0 784.8 L225.0 785.1 L228.3 787.4 L230.1 787.7 L232.6 785.9 L234.1 784.9 L235.7 785.2 L238.3 785.9 L240.4 786.0 L242.9 785.0 L245.0 784.4 L246.0 782.5 L248.3 779.5 L250.5 780.4 L251.8 782.6 L254.0 785.2 L255.7 787.4 L257.6 786.4 L258.4 786.2 L260.4 785.9 L261.8 783.0 L263.7 781.6 L265.6 782.8 L268.3 785.0 L270.3 787.1 L272.0 789.0 L274.1 789.2 L275.6 789.5 L278.5 790.8 L279.5 789.0 L280.1 787.0 L282.0 784.8 L282.6 782.5 L284.3 782.2 L286.7 782.6 L288.5 785.7 L290.7 787.9 L292.6 786.5 L295.2 786.3 L296.7 787.0 L299.1 786.7 L301.5 785.5 L303.5 784.8 L305.8 784.0 L307.5 783.5 L309.7 783.1 L312.1 781.2 L314.0 778.7 L316.6 777.2 L318.2 776.2 L320.5 775.3 L322.4 774.8 L325.1 774.8 L326.4 775.1 L329.2 773.6 L331.4 773.3 L333.3 773.2 L335.7 772.2 L336.9 773.6 L338.7 774.8 L341.2 773.9 L343.4 773.9 L345.9 774.7 L347.6 774.7 L349.7 774.8 L351.9 774.1 L354.8 773.6 L356.0 773.7 L358.3 772.6 L360.1 769.7 L362.7 768.7 L363.7 767.2 L365.7 767.6 L368.4 769.1 L370.2 770.8 L372.4 773.0 L374.0 774.4 L377.5 773.6 L378.4 772.5 L381.2 773.1 L383.4 774.2 L385.6 774.2 L388.0 774.4 L389.3 775.2 L391.1 774.5 L393.8 774.1 L396.1 774.1 L397.8 774.0 L399.9 775.1 L402.5 776.5 L403.8 776.2 L407.0 774.8 L407.8 773.4 L410.2 774.1 L412.6 775.5 L414.4 775.1 L417.1 775.2 L418.7 776.6 L420.8 777.0 L423.0 776.9 L425.7 777.2 L427.3 777.4 L429.4 777.7 L432.0 778.5 L433.3 779.0 L435.3 779.1 L437.9 780.4 L440.1 780.3 L441.7 779.8 L444.1 781.2 L446.4 781.6 L448.3 781.1 L450.6 782.1 L452.6 783.7 L455.2 783.6 L456.3 782.6 L459.6 781.8 L460.3 783.0 L463.3 782.9 L465.5 781.8 L468.3 783.0 L469.9 782.7 L470.9 781.8 L473.8 782.2 L475.3 782.6 L478.3 782.5 L480.6 782.7 L482.5 784.3 L484.0 785.8 L486.3 785.5 L487.8 785.6 L490.6 787.0 L491.0 790.0 L493.2 792.6 L494.5 794.0 L495.9 794.7 L498.2 796.5 L499.8 798.4 L502.0 800.4 L503.0 802.0 L505.3 801.5 L506.9 802.1 L509.9 804.6 L511.3 805.5 L512.9 805.9 L514.4 807.6 L516.8 809.3 L518.4 811.2 L519.8 812.2 L521.7 812.1 L523.7 813.2 L525.0 814.8 L526.9 815.5 L528.3 816.6 L530.7 818.0 L532.9 819.5 L534.8 820.3 L536.3 820.8 L538.2 823.2 L540.0 825.9 L540.0 827.6 L541.3 828.4 L542.8 829.2 L543.7 830.2 L544.9 831.6 L546.1 832.5 L548.1 833.8 L550.3 835.9 L550.8 837.5 L553.8 838.5 L555.1 839.0 L558.4 840.1 L559.9 842.1 L562.0 843.8 L563.6 844.7 L566.7 844.8 L568.2 845.3 L570.0 845.9 L572.9 843.2 L574.9 841.7 L577.4 841.9 L578.0 844.0 L579.9 845.6 L581.2 847.4 L582.5 848.4 L584.9 848.2 L587.1 847.8 L589.3 847.3 L590.4 849.7 L591.4 852.0 L592.6 853.0 L593.5 854.0 L594.6 854.9 L595.8 856.0 L597.2 859.2 L597.4 863.2 L598.1 865.2 L600.2 865.7 L600.4 867.2 L601.0 870.2 L602.1 872.5 L602.6 873.2 L604.4 874.3 L605.5 876.7 L606.9 878.6 L608.0 879.1 L610.0 880.1 L612.3 882.2 L613.1 884.7 L615.2 886.8 L617.2 888.4 L618.5 889.5 L619.9 890.9 L622.1 893.3 L623.9 895.6 L624.9 897.0 L626.5 898.9 L627.9 900.4 L629.9 901.7" fill="none" stroke="#0000FF" stroke-width="5.2" stroke-linejoin="round" stroke-linecap="butt"/>
<path d="M114.7 799.8 L116.1 798.6 L118.7 797.1 L121.0 796.4 L123.1 795.5 L124.8 795.8 L126.8 796.9 L128.2 795.2 L129.5 792.6 L130.8 789.9 L132.6 787.9 L134.2 787.1 L135.0 785.9 L136.6 785.5 L138.6 785.0 L140.3 783.0 L142.3 781.7 L143.7 780.9 L145.8 779.5 L147.3 777.8 L149.1 779.1 L150.5 780.7 L151.8 783.3 L154.3 784.6 L156.3 784.6 L158.1 783.1 L160.6 782.0 L163.0 784.7 L165.6 787.9 L166.8 786.1 L168.7 783.6 L171.3 782.8 L173.8 781.4 L175.0 779.9 L177.6 779.8 L179.3 779.6 L181.9 778.9 L183.4 779.5 L185.6 779.6 L187.0 776.7 L188.5 774.3 L189.5 772.7 L192.0 772.2 L193.9 772.2 L197.0 772.3 L198.9 771.0 L200.2 769.9 L202.4 769.7 L204.8 770.7 L206.6 771.7 L208.7 773.5 L211.2 775.2 L213.5 774.0 L215.4 772.6 L217.8 771.5 L219.4 770.3 L221.5 768.9 L223.5 767.6 L225.6 767.4 L227.5 767.0 L230.5 765.7 L232.4 765.3 L234.1 765.4 L236.3 764.6 L238.0 764.4 L240.7 765.0 L242.5 765.4 L244.6 765.5 L246.6 765.9 L248.3 765.8 L250.8 765.6 L253.7 765.9 L254.9 767.6 L256.9 769.5 L259.3 769.6 L261.1 768.9 L263.2 769.2 L265.3 770.7 L267.4 771.9 L269.9 771.8 L271.1 771.8 L273.6 772.6 L275.7 774.2 L278.3 775.8 L280.1 776.8 L282.7 778.8 L284.3 780.1 L287.1 779.7 L288.2 780.2 L291.6 780.9 L292.6 781.4 L295.0 782.8 L296.9 782.7 L299.3 782.5 L302.0 783.0 L303.9 782.7 L305.5 782.2 L308.0 782.0 L310.5 782.3 L312.2 784.0 L314.0 785.5 L316.3 784.5 L318.5 783.6 L319.8 785.3 L321.9 784.7 L323.8 782.2 L326.2 780.1 L327.4 777.9 L328.9 776.3 L330.3 775.8 L332.9 774.4 L334.6 773.2 L337.3 772.9 L339.1 772.9 L341.8 772.6 L343.6 772.3 L345.7 771.0 L347.9 771.4 L350.2 773.5 L351.9 775.5 L353.9 775.9 L357.1 774.2 L361.2 772.1 L361.9 772.8 L363.9 774.8 L366.4 776.7 L367.8 778.1 L370.7 776.8 L372.2 775.8 L374.6 777.3 L376.7 777.7 L378.6 776.9 L381.2 776.9 L383.1 776.9 L385.6 776.1 L387.6 775.1 L388.8 777.4 L390.8 779.4 L392.3 780.8 L393.7 783.1 L395.3 784.1 L397.2 785.3 L398.2 788.5 L400.4 790.4 L401.6 788.5 L403.3 788.0 L405.1 787.5 L407.3 785.3 L408.0 783.7 L410.0 783.7 L413.0 784.4 L414.6 784.1 L416.8 783.8 L418.4 783.9 L421.4 783.6 L423.2 783.8 L424.6 783.2 L427.7 782.1 L429.4 781.0 L429.8 782.8 L429.8 784.6 L431.7 787.0 L431.2 788.8 L433.9 788.9 L435.5 790.2 L437.5 792.6 L440.3 794.4 L442.3 794.9 L444.4 795.5 L446.1 795.4 L448.6 795.2 L450.7 796.0 L453.1 797.2 L454.6 799.1 L456.9 799.9 L458.3 797.0 L458.3 794.8 L460.5 793.6 L462.2 791.6 L463.0 789.7 L464.2 788.7 L465.5 787.5 L467.8 788.0 L468.8 788.9 L471.3 790.5 L473.3 790.4 L475.2 787.7 L478.2 786.5 L479.6 788.1 L482.1 790.0 L484.4 791.4 L486.7 792.1 L487.8 792.7 L489.9 793.5 L491.8 794.6 L494.8 795.7 L494.7 793.7 L495.7 791.4 L496.3 788.7 L497.1 786.7 L496.4 785.8 L498.9 785.4 L501.0 783.6 L502.3 783.3 L505.5 783.6 L507.8 784.1 L508.9 783.3 L511.7 781.5 L513.7 781.4 L515.8 782.3 L517.4 781.8 L519.5 779.7 L522.9 778.6 L524.1 781.2 L525.2 783.6 L527.2 784.8 L528.0 785.6 L530.7 786.3 L532.4 787.0 L533.7 787.1 L536.4 787.5 L538.6 789.6 L540.2 791.5 L541.7 792.7 L543.1 793.3 L545.3 792.9 L546.7 793.5 L549.3 794.2 L552.6 793.5 L553.6 791.6 L555.5 791.2 L558.6 792.6 L559.9 792.8 L561.9 791.6 L564.1 792.2 L566.3 792.6 L567.8 793.0 L570.4 794.8 L572.4 794.5 L574.0 792.7 L576.8 793.7 L578.8 795.7 L580.7 797.2 L582.9 798.3 L585.5 798.4 L586.2 798.1 L589.2 796.2 L590.7 795.7 L592.3 794.9 L593.9 793.0 L595.6 791.5 L597.4 790.2 L598.1 788.4 L600.6 787.6 L600.8 785.7 L602.9 782.4 L604.0 780.1 L606.4 777.7 L607.7 775.8 L608.5 775.2 L611.0 774.5 L612.2 773.7 L613.9 771.4 L614.9 767.7 L615.8 765.9 L617.0 765.4 L618.5 763.9 L619.7 761.4 L620.8 758.8 L622.0 757.8 L624.1 756.5 L625.1 754.0 L626.2 751.8 L627.8 750.7 L630.7 749.8" fill="none" stroke="#008000" stroke-width="5.2" stroke-linejoin="round" stroke-linecap="butt"/>
<path d="M114.2 745.2 L116.6 747.1 L118.6 748.0 L120.2 747.8 L122.3 748.5 L123.9 748.6 L127.5 748.3 L128.6 749.3 L131.5 750.4 L132.8 751.9 L135.1 752.8 L137.3 753.3 L139.7 754.5 L141.7 755.8 L143.2 755.3 L145.8 753.9 L148.4 754.4 L150.0 754.7 L151.9 754.7 L154.5 756.8 L156.9 757.4 L158.7 757.8 L160.7 759.6 L162.0 758.8 L164.8 757.5 L166.9 757.1 L169.4 757.1 L170.9 756.7 L173.5 755.4 L175.1 754.7 L177.4 754.3 L179.3 754.3 L182.1 754.7 L183.9 755.4 L185.6 755.3 L187.5 754.2 L189.4 753.5 L192.0 753.0 L194.2 753.6 L196.3 753.6 L198.1 753.3 L200.6 753.4 L202.8 751.7 L204.6 750.4 L206.5 750.4 L208.9 750.5 L210.8 750.8 L213.2 752.1 L215.3 752.3 L217.9 752.4 L219.4 754.7 L221.0 757.1 L224.6 758.2 L225.7 758.6 L227.1 759.0 L229.8 759.6 L231.8 760.0 L233.6 760.1 L236.3 760.6 L239.3 760.1 L240.4 759.4 L242.4 759.8 L245.0 760.1 L246.8 759.8 L248.7 759.7 L250.7 761.5 L252.6 762.6 L255.6 762.2 L257.3 763.1 L259.5 765.8 L261.2 768.8 L263.8 769.8 L265.6 770.2 L267.7 771.5 L270.6 771.9 L271.2 771.8 L274.1 773.5 L275.8 775.5 L278.4 777.1 L280.6 777.4 L282.2 776.0 L283.8 774.8 L286.5 774.7 L289.5 775.8 L291.7 777.1 L292.9 779.2 L294.6 780.2 L297.2 778.3 L299.2 776.8 L301.9 777.4 L303.8 778.8 L306.4 780.3 L307.8 780.5 L310.6 781.2 L312.0 782.0 L313.9 780.1 L316.7 779.6 L318.7 781.3 L320.1 781.4 L323.0 779.1 L324.9 777.5 L326.5 777.1 L329.2 776.3 L331.4 775.0 L332.9 773.8 L334.7 773.1 L337.7 772.8 L339.4 772.9 L340.9 772.9 L343.0 772.3 L345.6 771.8 L348.1 771.3 L349.5 771.0 L352.5 770.5 L353.9 769.5 L356.7 768.5 L357.5 767.9 L359.8 766.9 L362.7 767.6 L364.7 768.7 L365.9 770.2 L368.5 770.3 L369.8 769.7 L373.2 771.1 L375.3 771.6 L376.6 770.2 L379.3 771.0 L381.0 772.9 L383.8 772.6 L385.2 772.3 L387.5 772.7 L388.7 772.6 L391.6 771.0 L393.8 769.7 L396.4 770.7 L398.6 772.4 L400.0 773.6 L402.1 773.0 L403.8 772.6 L405.7 773.9 L408.5 775.2 L410.9 775.0 L412.6 774.1 L415.2 775.4 L416.7 777.2 L419.2 777.4 L419.7 775.4 L420.9 774.1 L422.8 772.7 L423.7 770.2 L425.3 768.4 L426.1 767.1 L427.0 765.7 L429.6 765.0 L431.4 763.7 L434.1 762.7 L436.1 761.9 L437.1 762.7 L440.3 763.0 L442.0 763.3 L444.1 763.8 L446.5 760.9 L448.1 758.7 L450.3 757.9 L452.9 757.3 L454.8 758.3 L457.0 758.8 L458.3 758.9 L460.8 758.6 L462.9 758.8 L465.5 758.5 L467.0 756.4 L469.3 754.8 L471.8 756.5 L473.3 758.1 L476.0 758.6 L477.6 758.7 L480.3 758.6 L481.7 758.9 L484.3 759.2 L486.4 760.0 L488.2 761.7 L488.6 762.7 L491.8 764.0 L494.0 765.7 L494.7 767.0 L495.7 768.0 L496.8 769.3 L497.6 771.7 L499.0 774.2 L501.7 773.5 L503.1 771.8 L504.9 770.2 L506.3 769.8 L508.8 770.4 L512.3 770.5 L514.1 771.8 L515.5 772.4 L516.9 772.8 L518.4 773.8 L519.8 775.0 L521.2 773.2 L523.2 772.2 L524.7 770.9 L526.9 770.4 L528.4 771.0 L530.6 772.7 L533.0 772.7 L534.3 772.8 L536.2 771.2 L537.5 769.0 L538.3 767.2 L539.1 765.8 L541.0 764.0 L543.8 763.7 L545.5 763.0 L546.9 760.9 L549.2 758.5 L552.0 757.7 L553.4 757.8 L555.4 758.2 L557.0 758.1 L559.8 756.7 L562.1 755.0 L563.8 754.2 L565.7 753.1 L568.5 752.0 L570.6 751.7 L572.6 751.7 L574.6 751.8 L577.1 751.5 L579.3 749.7 L581.6 746.8 L582.9 746.3 L584.7 749.0 L586.8 749.6 L589.2 748.2 L591.7 747.9 L593.7 747.9 L595.4 747.4 L597.5 746.5 L599.6 746.8 L601.7 748.5 L604.1 749.4 L606.3 749.8 L608.7 749.6 L610.5 748.5 L612.5 748.6 L614.4 747.5 L616.8 745.9 L618.8 745.7 L621.6 744.7 L622.9 743.7 L625.3 743.4 L627.0 744.6 L630.2 745.9" fill="none" stroke="#8000FF" stroke-width="5.2" stroke-linejoin="round" stroke-linecap="butt"/>
<path d="M114.0 715.4 L116.6 716.4 L118.7 716.4 L120.1 716.9 L121.9 719.6 L123.7 722.3 L125.2 722.0 L126.6 722.6 L128.9 721.5 L131.6 719.8 L133.6 719.9 L135.7 720.0 L137.8 719.1 L139.5 718.4 L141.6 718.6 L143.8 718.8 L145.5 720.2 L147.5 721.5 L149.6 722.1 L152.1 723.4 L154.1 723.7 L156.4 723.1 L158.8 722.0 L160.6 720.9 L162.5 720.6 L164.4 720.9 L166.4 721.0 L168.9 720.9 L170.8 721.2 L173.3 721.5 L174.9 722.3 L177.2 723.4 L178.8 724.3 L181.8 725.1 L183.1 725.5 L185.4 725.1 L187.9 726.2 L189.5 728.3 L192.3 729.7 L194.9 730.4 L195.6 729.8 L198.4 730.0 L201.0 731.6 L202.8 734.1 L204.1 736.1 L206.4 736.2 L208.8 736.8 L210.3 738.7 L212.3 740.6 L215.0 742.0 L217.3 742.2 L219.2 742.1 L221.8 742.8 L223.6 743.8 L225.8 744.9 L228.2 746.5 L230.1 746.2 L231.6 746.0 L233.9 747.0 L236.2 747.9 L237.7 748.4 L240.3 748.0 L242.4 746.8 L244.3 746.6 L246.8 745.6 L248.6 744.4 L251.5 743.9 L253.5 743.2 L255.3 743.2 L257.3 743.4 L259.6 743.7 L261.1 743.7 L263.9 744.9 L265.8 747.1 L268.1 748.8 L270.3 749.0 L271.4 748.7 L274.5 749.6 L276.7 750.7 L278.4 751.5 L280.4 751.3 L282.4 751.6 L285.0 752.1 L286.0 752.0 L288.4 751.3 L290.6 750.4 L293.5 751.3 L293.2 752.4 L295.8 753.7 L297.9 755.8 L299.6 757.5 L301.8 757.7 L303.5 757.8 L304.7 757.5 L307.4 758.3 L309.2 759.9 L311.1 760.1 L312.8 760.7 L314.6 762.2 L316.2 763.2 L318.6 764.1 L319.8 765.8 L322.8 766.9 L325.4 767.4 L327.0 769.3 L329.2 770.8 L329.9 769.6 L333.3 768.9 L335.1 768.2 L337.3 767.5 L340.1 767.0 L341.3 765.3 L344.7 765.5 L345.2 767.4 L348.0 768.5 L350.0 769.2 L352.2 769.8 L354.5 769.8 L356.3 769.3 L358.5 769.6 L359.3 768.4 L361.6 769.6 L364.0 770.7 L366.4 772.3 L368.3 773.6 L369.0 775.4 L370.9 777.6 L372.6 779.0 L374.3 776.4 L375.9 774.6 L377.2 773.1 L378.8 770.9 L381.3 769.1 L382.6 768.2 L385.9 766.3 L387.4 765.2 L389.4 765.2 L391.7 764.6 L393.4 763.4 L395.4 762.3 L397.9 761.8 L399.4 763.3 L402.6 764.8 L404.2 765.4 L406.5 765.1 L408.7 764.3 L410.8 763.6 L412.7 762.4 L414.3 762.6 L417.0 763.7 L419.1 762.9 L421.0 761.1 L422.9 759.4 L425.3 757.0 L427.3 755.3 L428.9 755.0 L431.3 754.8 L433.1 753.7 L435.2 752.8 L437.7 752.1 L439.6 750.8 L441.6 751.7 L443.0 753.0 L445.3 754.7 L446.5 755.7 L448.5 756.9 L450.3 759.1 L452.7 760.8 L454.2 761.6 L457.2 762.1 L458.8 763.3 L460.4 765.0 L461.9 765.4 L463.5 765.9 L465.1 767.6 L466.7 768.8 L469.6 768.8 L471.6 768.2 L474.3 768.5 L475.7 769.9 L477.3 771.8 L480.0 772.6 L482.7 772.5 L484.6 771.0 L485.8 770.2 L488.2 769.3 L490.8 768.0 L492.4 768.5 L494.8 768.9 L496.7 769.1 L499.2 769.8 L500.8 769.8 L503.8 769.9 L505.3 768.8 L506.8 766.7 L509.2 764.8 L510.5 763.3 L512.4 761.7 L514.5 760.3 L515.6 759.1 L517.4 757.8 L519.1 757.0 L520.9 755.9 L521.9 753.9 L524.0 752.3 L525.7 751.5 L527.4 751.0 L528.8 749.8 L530.9 748.1 L532.9 747.1 L535.1 748.3 L537.0 748.7 L539.7 747.7 L540.8 747.3 L542.3 745.4 L543.5 742.8 L545.0 740.8 L547.2 739.6 L548.0 738.5 L550.0 737.1 L551.7 737.3 L553.9 738.3 L555.6 739.1 L557.9 738.0 L559.8 736.9 L562.5 737.6 L563.8 736.4 L566.3 734.1 L568.3 733.7 L570.5 734.2 L571.9 732.8 L575.4 731.0 L575.9 730.5 L578.7 730.0 L579.4 727.9 L581.5 725.7 L583.1 724.4 L585.3 724.4 L587.6 724.1 L589.7 724.7 L592.3 726.5 L592.9 725.3 L595.3 722.1 L597.1 719.7 L597.4 719.4 L599.7 719.1 L600.7 715.9 L602.7 713.4 L603.8 713.1 L606.1 714.5 L607.0 715.3 L609.7 717.8 L611.1 719.7 L613.1 720.6 L613.8 718.9 L616.4 718.5 L618.7 719.2 L620.8 717.8 L623.5 717.4 L624.8 718.5 L628.0 719.4 L630.0 719.3" fill="none" stroke="#FF8000" stroke-width="5.2" stroke-linejoin="round" stroke-linecap="butt"/>
</g>
<rect x="113.6" y="25.2" width="516" height="503.55" fill="none" stroke="#000" stroke-width="1.35"/>
<path d="M165.2 528.75v7.8M165.2 25.2v7.8M268.4 528.75v7.8M268.4 25.2v7.8M371.6 528.75v7.8M371.6 25.2v7.8M474.8 528.75v7.8M474.8 25.2v7.8M578 528.75v7.8M578 25.2v7.8M113.6 528.75v4.3M113.6 25.2v4.3M216.8 528.75v4.3M216.8 25.2v4.3M320 528.75v4.3M320 25.2v4.3M423.2 528.75v4.3M423.2 25.2v4.3M526.4 528.75v4.3M526.4 25.2v4.3M629.6 528.75v4.3M629.6 25.2v4.3M113.6 482.97h-7.8M629.6 482.97h-7.8M113.6 391.42h-7.8M629.6 391.42h-7.8M113.6 299.86h-7.8M629.6 299.86h-7.8M113.6 208.31h-7.8M629.6 208.31h-7.8M113.6 116.75h-7.8M629.6 116.75h-7.8M113.6 25.2h-7.8M629.6 25.2h-7.8M113.6 528.75h-4.3M629.6 528.75h-4.3M113.6 437.2h-4.3M629.6 437.2h-4.3M113.6 345.64h-4.3M629.6 345.64h-4.3M113.6 254.09h-4.3M629.6 254.09h-4.3M113.6 162.53h-4.3M629.6 162.53h-4.3M113.6 70.98h-4.3M629.6 70.98h-4.3" fill="none" stroke="#000" stroke-width="1.35"/>
<rect x="793.5" y="25.2" width="515.9" height="503.55" fill="none" stroke="#000" stroke-width="1.35"/>
<path d="M845.09 528.75v7.8M845.09 25.2v7.8M948.27 528.75v7.8M948.27 25.2v7.8M1051.45 528.75v7.8M1051.45 25.2v7.8M1154.63 528.75v7.8M1154.63 25.2v7.8M1257.81 528.75v7.8M1257.81 25.2v7.8M793.5 528.75v4.3M793.5 25.2v4.3M896.68 528.75v4.3M896.68 25.2v4.3M999.86 528.75v4.3M999.86 25.2v4.3M1103.04 528.75v4.3M1103.04 25.2v4.3M1206.22 528.75v4.3M1206.22 25.2v4.3M1309.4 528.75v4.3M1309.4 25.2v4.3M793.5 58.77h-7.8M1309.4 58.77h-7.8M793.5 193.05h-7.8M1309.4 193.05h-7.8M793.5 327.33h-7.8M1309.4 327.33h-7.8M793.5 461.61h-7.8M1309.4 461.61h-7.8M793.5 125.91h-4.3M1309.4 125.91h-4.3M793.5 260.19h-4.3M1309.4 260.19h-4.3M793.5 394.47h-4.3M1309.4 394.47h-4.3M793.5 528.75h-4.3M1309.4 528.75h-4.3" fill="none" stroke="#000" stroke-width="1.35"/>
<rect x="113.6" y="673.4" width="516" height="503" fill="none" stroke="#000" stroke-width="1.35"/>
<path d="M165.2 1176.4v7.8M165.2 673.4v7.8M268.4 1176.4v7.8M268.4 673.4v7.8M371.6 1176.4v7.8M371.6 673.4v7.8M474.8 1176.4v7.8M474.8 673.4v7.8M578 1176.4v7.8M578 673.4v7.8M113.6 1176.4v4.3M113.6 673.4v4.3M216.8 1176.4v4.3M216.8 673.4v4.3M320 1176.4v4.3M320 673.4v4.3M423.2 1176.4v4.3M423.2 673.4v4.3M526.4 1176.4v4.3M526.4 673.4v4.3M629.6 1176.4v4.3M629.6 673.4v4.3M113.6 673.4h-7.8M629.6 673.4h-7.8M113.6 774h-7.8M629.6 774h-7.8M113.6 874.6h-7.8M629.6 874.6h-7.8M113.6 975.2h-7.8M629.6 975.2h-7.8M113.6 1075.8h-7.8M629.6 1075.8h-7.8M113.6 1176.4h-7.8M629.6 1176.4h-7.8M113.6 723.7h-4.3M629.6 723.7h-4.3M113.6 824.3h-4.3M629.6 824.3h-4.3M113.6 924.9h-4.3M629.6 924.9h-4.3M113.6 1025.5h-4.3M629.6 1025.5h-4.3M113.6 1126.1h-4.3M629.6 1126.1h-4.3" fill="none" stroke="#000" stroke-width="1.35"/>
<rect x="793.5" y="673.4" width="515.9" height="503" fill="none" stroke="#000" stroke-width="1.35"/>
<path d="M793.5 1176.4v7.8M793.5 673.4v7.8M922.48 1176.4v7.8M922.48 673.4v7.8M1051.45 1176.4v7.8M1051.45 673.4v7.8M1180.43 1176.4v7.8M1180.43 673.4v7.8M1309.4 1176.4v7.8M1309.4 673.4v7.8M857.99 1176.4v4.3M857.99 673.4v4.3M986.96 1176.4v4.3M986.96 673.4v4.3M1115.94 1176.4v4.3M1115.94 673.4v4.3M1244.91 1176.4v4.3M1244.91 673.4v4.3M793.5 1176.4h-7.8M1309.4 1176.4h-7.8M793.5 1075.8h-7.8M1309.4 1075.8h-7.8M793.5 975.2h-7.8M1309.4 975.2h-7.8M793.5 874.6h-7.8M1309.4 874.6h-7.8M793.5 774h-7.8M1309.4 774h-7.8M793.5 673.4h-7.8M1309.4 673.4h-7.8M793.5 1126.1h-4.3M1309.4 1126.1h-4.3M793.5 1025.5h-4.3M1309.4 1025.5h-4.3M793.5 924.9h-4.3M1309.4 924.9h-4.3M793.5 824.3h-4.3M1309.4 824.3h-4.3M793.5 723.7h-4.3M1309.4 723.7h-4.3" fill="none" stroke="#000" stroke-width="1.35"/>
<path d="M829.6 673.4 L845.1 861.0 L896.7 1038.3 L948.3 1156.8 L1051.5 1175.4 L1309.4 1176.4" fill="none" stroke="#808080" stroke-width="5.0" stroke-linejoin="round" stroke-linecap="butt"/>
<circle cx="829.6" cy="673.4" r="13.9" fill="#000000"/>
<circle cx="825.1" cy="668.8" r="6.6" fill="#fff" fill-opacity="0.45"/>
<circle cx="825.1" cy="668.8" r="4.0" fill="#fff" fill-opacity="0.45"/>
<circle cx="825.1" cy="668.8" r="2.0" fill="#fff"/>
<circle cx="845.1" cy="861.0" r="13.9" fill="#FF0000"/>
<circle cx="840.6" cy="856.4" r="6.6" fill="#fff" fill-opacity="0.45"/>
<circle cx="840.6" cy="856.4" r="4.0" fill="#fff" fill-opacity="0.45"/>
<circle cx="840.6" cy="856.4" r="2.0" fill="#fff"/>
<circle cx="896.7" cy="1038.3" r="13.9" fill="#0000FF"/>
<circle cx="892.2" cy="1033.7" r="6.6" fill="#fff" fill-opacity="0.45"/>
<circle cx="892.2" cy="1033.7" r="4.0" fill="#fff" fill-opacity="0.45"/>
<circle cx="892.2" cy="1033.7" r="2.0" fill="#fff"/>
<circle cx="948.3" cy="1156.8" r="13.9" fill="#008000"/>
<circle cx="943.8" cy="1152.2" r="6.6" fill="#fff" fill-opacity="0.45"/>
<circle cx="943.8" cy="1152.2" r="4.0" fill="#fff" fill-opacity="0.45"/>
<circle cx="943.8" cy="1152.2" r="2.0" fill="#fff"/>
<circle cx="1051.5" cy="1175.4" r="13.9" fill="#8000FF"/>
<circle cx="1047.0" cy="1170.8" r="6.6" fill="#fff" fill-opacity="0.45"/>
<circle cx="1047.0" cy="1170.8" r="4.0" fill="#fff" fill-opacity="0.45"/>
<circle cx="1047.0" cy="1170.8" r="2.0" fill="#fff"/>
<circle cx="1309.4" cy="1176.4" r="13.9" fill="#FF8000"/>
<circle cx="1304.9" cy="1171.8" r="6.6" fill="#fff" fill-opacity="0.45"/>
<circle cx="1304.9" cy="1171.8" r="4.0" fill="#fff" fill-opacity="0.45"/>
<circle cx="1304.9" cy="1171.8" r="2.0" fill="#fff"/>
<text x="101" y="35.2" font-size="31.5" text-anchor="end" font-family='"Liberation Sans", sans-serif' font-weight="normal" >10</text>
<text x="101" y="126.75" font-size="31.5" text-anchor="end" font-family='"Liberation Sans", sans-serif' font-weight="normal" >8</text>
<text x="101" y="218.31" font-size="31.5" text-anchor="end" font-family='"Liberation Sans", sans-serif' font-weight="normal" >6</text>
<text x="101" y="309.86" font-size="31.5" text-anchor="end" font-family='"Liberation Sans", sans-serif' font-weight="normal" >4</text>
<text x="101" y="401.42" font-size="31.5" text-anchor="end" font-family='"Liberation Sans", sans-serif' font-weight="normal" >2</text>
<text x="101" y="492.97" font-size="31.5" text-anchor="end" font-family='"Liberation Sans", sans-serif' font-weight="normal" >0</text>
<text x="780.3" y="68.77" font-size="31.5" text-anchor="end" font-family='"Liberation Sans", sans-serif' font-weight="normal" >0.0</text>
<text x="780.3" y="203.05" font-size="31.5" text-anchor="end" font-family='"Liberation Sans", sans-serif' font-weight="normal" >-0.2</text>
<text x="780.3" y="337.33" font-size="31.5" text-anchor="end" font-family='"Liberation Sans", sans-serif' font-weight="normal" >-0.4</text>
<text x="780.3" y="471.61" font-size="31.5" text-anchor="end" font-family='"Liberation Sans", sans-serif' font-weight="normal" >-0.6</text>
<text x="100.3" y="683.4" font-size="31.5" text-anchor="end" font-family='"Liberation Sans", sans-serif' font-weight="normal" >0.2</text>
<text x="100.3" y="784" font-size="31.5" text-anchor="end" font-family='"Liberation Sans", sans-serif' font-weight="normal" >0.0</text>
<text x="100.3" y="884.6" font-size="31.5" text-anchor="end" font-family='"Liberation Sans", sans-serif' font-weight="normal" >-0.2</text>
<text x="100.3" y="985.2" font-size="31.5" text-anchor="end" font-family='"Liberation Sans", sans-serif' font-weight="normal" >-0.4</text>
<text x="100.3" y="1085.8" font-size="31.5" text-anchor="end" font-family='"Liberation Sans", sans-serif' font-weight="normal" >-0.6</text>
<text x="100.3" y="1186.4" font-size="31.5" text-anchor="end" font-family='"Liberation Sans", sans-serif' font-weight="normal" >-0.8</text>
<text x="780.1" y="683.4" font-size="31.5" text-anchor="end" font-family='"Liberation Sans", sans-serif' font-weight="normal" >1.0</text>
<text x="780.1" y="784" font-size="31.5" text-anchor="end" font-family='"Liberation Sans", sans-serif' font-weight="normal" >0.8</text>
<text x="780.1" y="884.6" font-size="31.5" text-anchor="end" font-family='"Liberation Sans", sans-serif' font-weight="normal" >0.6</text>
<text x="780.1" y="985.2" font-size="31.5" text-anchor="end" font-family='"Liberation Sans", sans-serif' font-weight="normal" >0.4</text>
<text x="780.1" y="1085.8" font-size="31.5" text-anchor="end" font-family='"Liberation Sans", sans-serif' font-weight="normal" >0.2</text>
<text x="780.1" y="1186.4" font-size="31.5" text-anchor="end" font-family='"Liberation Sans", sans-serif' font-weight="normal" >0.0</text>
<text x="165.2" y="566.3" font-size="31.5" text-anchor="middle" font-family='"Liberation Sans", sans-serif' font-weight="normal" >-4</text>
<text x="268.4" y="566.3" font-size="31.5" text-anchor="middle" font-family='"Liberation Sans", sans-serif' font-weight="normal" >-2</text>
<text x="371.6" y="566.3" font-size="31.5" text-anchor="middle" font-family='"Liberation Sans", sans-serif' font-weight="normal" >0</text>
<text x="474.8" y="566.3" font-size="31.5" text-anchor="middle" font-family='"Liberation Sans", sans-serif' font-weight="normal" >2</text>
<text x="578" y="566.3" font-size="31.5" text-anchor="middle" font-family='"Liberation Sans", sans-serif' font-weight="normal" >4</text>
<text x="845.09" y="566.3" font-size="31.5" text-anchor="middle" font-family='"Liberation Sans", sans-serif' font-weight="normal" >-4</text>
<text x="948.27" y="566.3" font-size="31.5" text-anchor="middle" font-family='"Liberation Sans", sans-serif' font-weight="normal" >-2</text>
<text x="1051.45" y="566.3" font-size="31.5" text-anchor="middle" font-family='"Liberation Sans", sans-serif' font-weight="normal" >0</text>
<text x="1154.63" y="566.3" font-size="31.5" text-anchor="middle" font-family='"Liberation Sans", sans-serif' font-weight="normal" >2</text>
<text x="1257.81" y="566.3" font-size="31.5" text-anchor="middle" font-family='"Liberation Sans", sans-serif' font-weight="normal" >4</text>
<text x="165.2" y="1221.8" font-size="31.5" text-anchor="middle" font-family='"Liberation Sans", sans-serif' font-weight="normal" >-4</text>
<text x="268.4" y="1221.8" font-size="31.5" text-anchor="middle" font-family='"Liberation Sans", sans-serif' font-weight="normal" >-2</text>
<text x="371.6" y="1221.8" font-size="31.5" text-anchor="middle" font-family='"Liberation Sans", sans-serif' font-weight="normal" >0</text>
<text x="474.8" y="1221.8" font-size="31.5" text-anchor="middle" font-family='"Liberation Sans", sans-serif' font-weight="normal" >2</text>
<text x="578" y="1221.8" font-size="31.5" text-anchor="middle" font-family='"Liberation Sans", sans-serif' font-weight="normal" >4</text>
<text x="793.5" y="1221.8" font-size="31.5" text-anchor="middle" font-family='"Liberation Sans", sans-serif' font-weight="normal" >0</text>
<text x="922.48" y="1221.8" font-size="31.5" text-anchor="middle" font-family='"Liberation Sans", sans-serif' font-weight="normal" >5</text>
<text x="1051.45" y="1221.8" font-size="31.5" text-anchor="middle" font-family='"Liberation Sans", sans-serif' font-weight="normal" >10</text>
<text x="1180.43" y="1221.8" font-size="31.5" text-anchor="middle" font-family='"Liberation Sans", sans-serif' font-weight="normal" >15</text>
<text x="1309.4" y="1221.8" font-size="31.5" text-anchor="middle" font-family='"Liberation Sans", sans-serif' font-weight="normal" >20</text>
<text x="371.6" y="616.7" font-size="45" text-anchor="middle" font-family='"Liberation Sans", sans-serif' font-weight="normal" >B (T)</text>
<text x="1051.5" y="616.6" font-size="45" text-anchor="middle" font-family='"Liberation Sans", sans-serif' font-weight="normal" >B (T)</text>
<text x="371.6" y="1273.6" font-size="45" text-anchor="middle" font-family='"Liberation Sans", sans-serif' font-weight="normal" >B (T)</text>
<text x="1051.5" y="1274" font-size="45" text-anchor="middle" font-family='"Liberation Sans", sans-serif' font-weight="normal" >T (K)</text>
<text transform="translate(32,356) rotate(-90)" font-size="42" font-family='"Liberation Sans", sans-serif'><tspan font-family='"Liberation Serif", serif' font-size="45.5">Δ</tspan>ρ/ρ<tspan font-family='"Liberation Serif", serif' font-size="28" dy="11.5">0</tspan><tspan font-family='"Liberation Serif", serif' font-size="43" dy="-11.5" dx="8.1">(%)</tspan></text>
<text transform="translate(709.6,356) rotate(-90)" font-size="42" font-family='"Liberation Sans", sans-serif'><tspan font-family='"Liberation Serif", serif' font-size="45.5">Δ</tspan>ρ/ρ<tspan font-family='"Liberation Serif", serif' font-size="28" dy="11.5">0</tspan><tspan font-family='"Liberation Serif", serif' font-size="43" dy="-11.5" dx="8.1">(%)</tspan></text>
<text transform="translate(31.9,1011.4) rotate(-90)" font-size="42" font-family='"Liberation Sans", sans-serif'><tspan font-family='"Liberation Serif", serif' font-size="45.5">Δ</tspan>ρ/ρ<tspan font-family='"Liberation Serif", serif' font-size="28" dy="11.5">0</tspan><tspan font-family='"Liberation Serif", serif' font-size="43" dy="-11.5" dx="8.1">(%)</tspan></text>
<text transform="translate(710,982) rotate(-90)" font-size="44" font-family='"Liberation Serif", serif'>τ/τ<tspan font-size="30" dy="11.6" dx="2">1.4 K</tspan></text>
<text x="691.9" y="36.3" font-size="51" text-anchor="start" font-family='"Liberation Sans", sans-serif' font-weight="bold" >b</text>
<text x="12.1" y="676.2" font-size="49.5" text-anchor="start" font-family='"Liberation Sans", sans-serif' font-weight="bold" >c</text>
<text x="691.9" y="676.3" font-size="51" text-anchor="start" font-family='"Liberation Sans", sans-serif' font-weight="bold" >d</text>
<g transform="translate(11.8,36.6) scale(0.94,1)"><text x="0" y="0" font-size="51" text-anchor="start" font-family='"Liberation Sans", sans-serif' font-weight="bold" >a</text></g>
<path d="M933.1 263.4h66.8" stroke="#FF0080" stroke-width="5" fill="none"/>
<text x="1007.7" y="274" font-size="28.3" text-anchor="start" font-family='"Liberation Sans", sans-serif' font-weight="normal" >-9°</text>
<path d="M933.1 300.2h66.8" stroke="#FF0000" stroke-width="5" fill="none"/>
<text x="1007.7" y="310.8" font-size="28.3" text-anchor="start" font-family='"Liberation Sans", sans-serif' font-weight="normal" >0°</text>
<path d="M933.1 336.8h66.8" stroke="#B07CE0" stroke-width="5" fill="none"/>
<text x="1007.7" y="347.4" font-size="28.3" text-anchor="start" font-family='"Liberation Sans", sans-serif' font-weight="normal" >6°</text>
<path d="M933.1 373.6h66.8" stroke="#00CCCC" stroke-width="5" fill="none"/>
<text x="1007.7" y="384.2" font-size="28.3" text-anchor="start" font-family='"Liberation Sans", sans-serif' font-weight="normal" >16°</text>
<path d="M933.1 410.1h66.8" stroke="#888800" stroke-width="5" fill="none"/>
<text x="1007.7" y="420.7" font-size="28.3" text-anchor="start" font-family='"Liberation Sans", sans-serif' font-weight="normal" >26°</text>
<path d="M933.1 446.7h66.8" stroke="#6699CC" stroke-width="5" fill="none"/>
<text x="1007.7" y="457.3" font-size="28.3" text-anchor="start" font-family='"Liberation Sans", sans-serif' font-weight="normal" >54°</text>
<path d="M933.1 483.4h66.8" stroke="#330066" stroke-width="5" fill="none"/>
<text x="1007.7" y="494" font-size="28.3" text-anchor="start" font-family='"Liberation Sans", sans-serif' font-weight="normal" >90°</text>
<path d="M1067.0 263.4h66.8" stroke="#0000FF" stroke-width="5" fill="none"/>
<text x="1142.5" y="274" font-size="28.3" text-anchor="start" font-family='"Liberation Sans", sans-serif' font-weight="normal" >-4°</text>
<path d="M1067.0 300.2h66.8" stroke="#3AAA6C" stroke-width="5" fill="none"/>
<text x="1142.5" y="310.8" font-size="28.3" text-anchor="start" font-family='"Liberation Sans", sans-serif' font-weight="normal" >3°</text>
<path d="M1067.0 336.8h66.8" stroke="#CC9900" stroke-width="5" fill="none"/>
<text x="1142.5" y="347.4" font-size="28.3" text-anchor="start" font-family='"Liberation Sans", sans-serif' font-weight="normal" >11°</text>
<path d="M1067.0 373.6h66.8" stroke="#7A4C4C" stroke-width="5" fill="none"/>
<text x="1142.5" y="384.2" font-size="28.3" text-anchor="start" font-family='"Liberation Sans", sans-serif' font-weight="normal" >21°</text>
<path d="M1067.0 410.1h66.8" stroke="#FF6600" stroke-width="5" fill="none"/>
<text x="1142.5" y="420.7" font-size="28.3" text-anchor="start" font-family='"Liberation Sans", sans-serif' font-weight="normal" >36°</text>
<path d="M1067.0 446.7h66.8" stroke="#66B400" stroke-width="5" fill="none"/>
<text x="1142.5" y="457.3" font-size="28.3" text-anchor="start" font-family='"Liberation Sans", sans-serif' font-weight="normal" >72°</text>
<path d="M290.1 908.8h73.7" stroke="#FF8000" stroke-width="5" fill="none"/>
<text x="371.9" y="920.7" font-size="33.3" text-anchor="start" font-family='"Liberation Sans", sans-serif' font-weight="normal" >20 K</text>
<path d="M290.1 949.2h73.7" stroke="#8000FF" stroke-width="5" fill="none"/>
<text x="371.9" y="961.1" font-size="33.3" text-anchor="start" font-family='"Liberation Sans", sans-serif' font-weight="normal" >10 K</text>
<path d="M290.1 989.5h73.7" stroke="#008000" stroke-width="5" fill="none"/>
<text x="371.9" y="1001.4" font-size="33.3" text-anchor="start" font-family='"Liberation Sans", sans-serif' font-weight="normal" >6 K</text>
<path d="M290.1 1029.6h73.7" stroke="#0000FF" stroke-width="5" fill="none"/>
<text x="371.9" y="1041.5" font-size="33.3" text-anchor="start" font-family='"Liberation Sans", sans-serif' font-weight="normal" >4 K</text>
<path d="M290.1 1070.0h73.7" stroke="#FF0000" stroke-width="5" fill="none"/>
<text x="371.9" y="1081.9" font-size="33.3" text-anchor="start" font-family='"Liberation Sans", sans-serif' font-weight="normal" >2 K</text>
<path d="M290.1 1110.3h73.7" stroke="#000000" stroke-width="5" fill="none"/>
<text x="371.9" y="1122.2" font-size="33.3" text-anchor="start" font-family='"Liberation Sans", sans-serif' font-weight="normal" >1.4 K</text>
<g>
<path d="M400.8 144.2 L453.6 198.6 L346.9 384.8 L296.2 322.2 Z" fill="#C0C0C0" stroke="#000" stroke-width="3.5" stroke-linejoin="miter"/>
<path d="M371.5 259.8 V117" stroke="#0000FF" stroke-width="9.1" fill="none"/>
<path d="M371.4 60.6 L390.6 117.7 L351.9 117.7 Z" fill="#0000FF"/>
<path d="M333.5 215 L353.1 235.7 M358.3 243.5 L373.1 258.3 M383.5 272 L402.4 292.4 M409 302.1 L426.8 321.8" stroke="#000" stroke-width="3.2" fill="none"/>
<path d="M377.5 171.2 Q389 146 417.8 182.5" stroke="#000" stroke-width="3.4" fill="none"/>
<path d="M358 290.7 L444 148.5" stroke="#000" stroke-width="8.8" fill="none"/>
<path d="M467.8 108.2 L456.7 157.6 L429.2 141.4 Z" fill="#000"/>
<path d="M412.3 325.3 C404 312 404 294 412 287.5 C419 282 429 284 435.5 293.5" stroke="#000" stroke-width="3.0" fill="none"/>
<path d="M426.6 293.2 L445 293.2 L435.7 320.6 Z" fill="#000"/>
<text x="329.97" y="78.7" font-size="34.5" text-anchor="start" font-family='"Liberation Sans", sans-serif' font-weight="normal" >B</text>
<text x="474.72" y="122.2" font-size="34.5" text-anchor="start" font-family='"Liberation Sans", sans-serif' font-weight="normal" >I</text>
<text x="404" y="136.8" font-size="35.5" font-family='"Liberation Serif", serif' transform="translate(404,0) scale(1.12,1) translate(-404,0)">θ</text>
</g>
</svg></body></html>
